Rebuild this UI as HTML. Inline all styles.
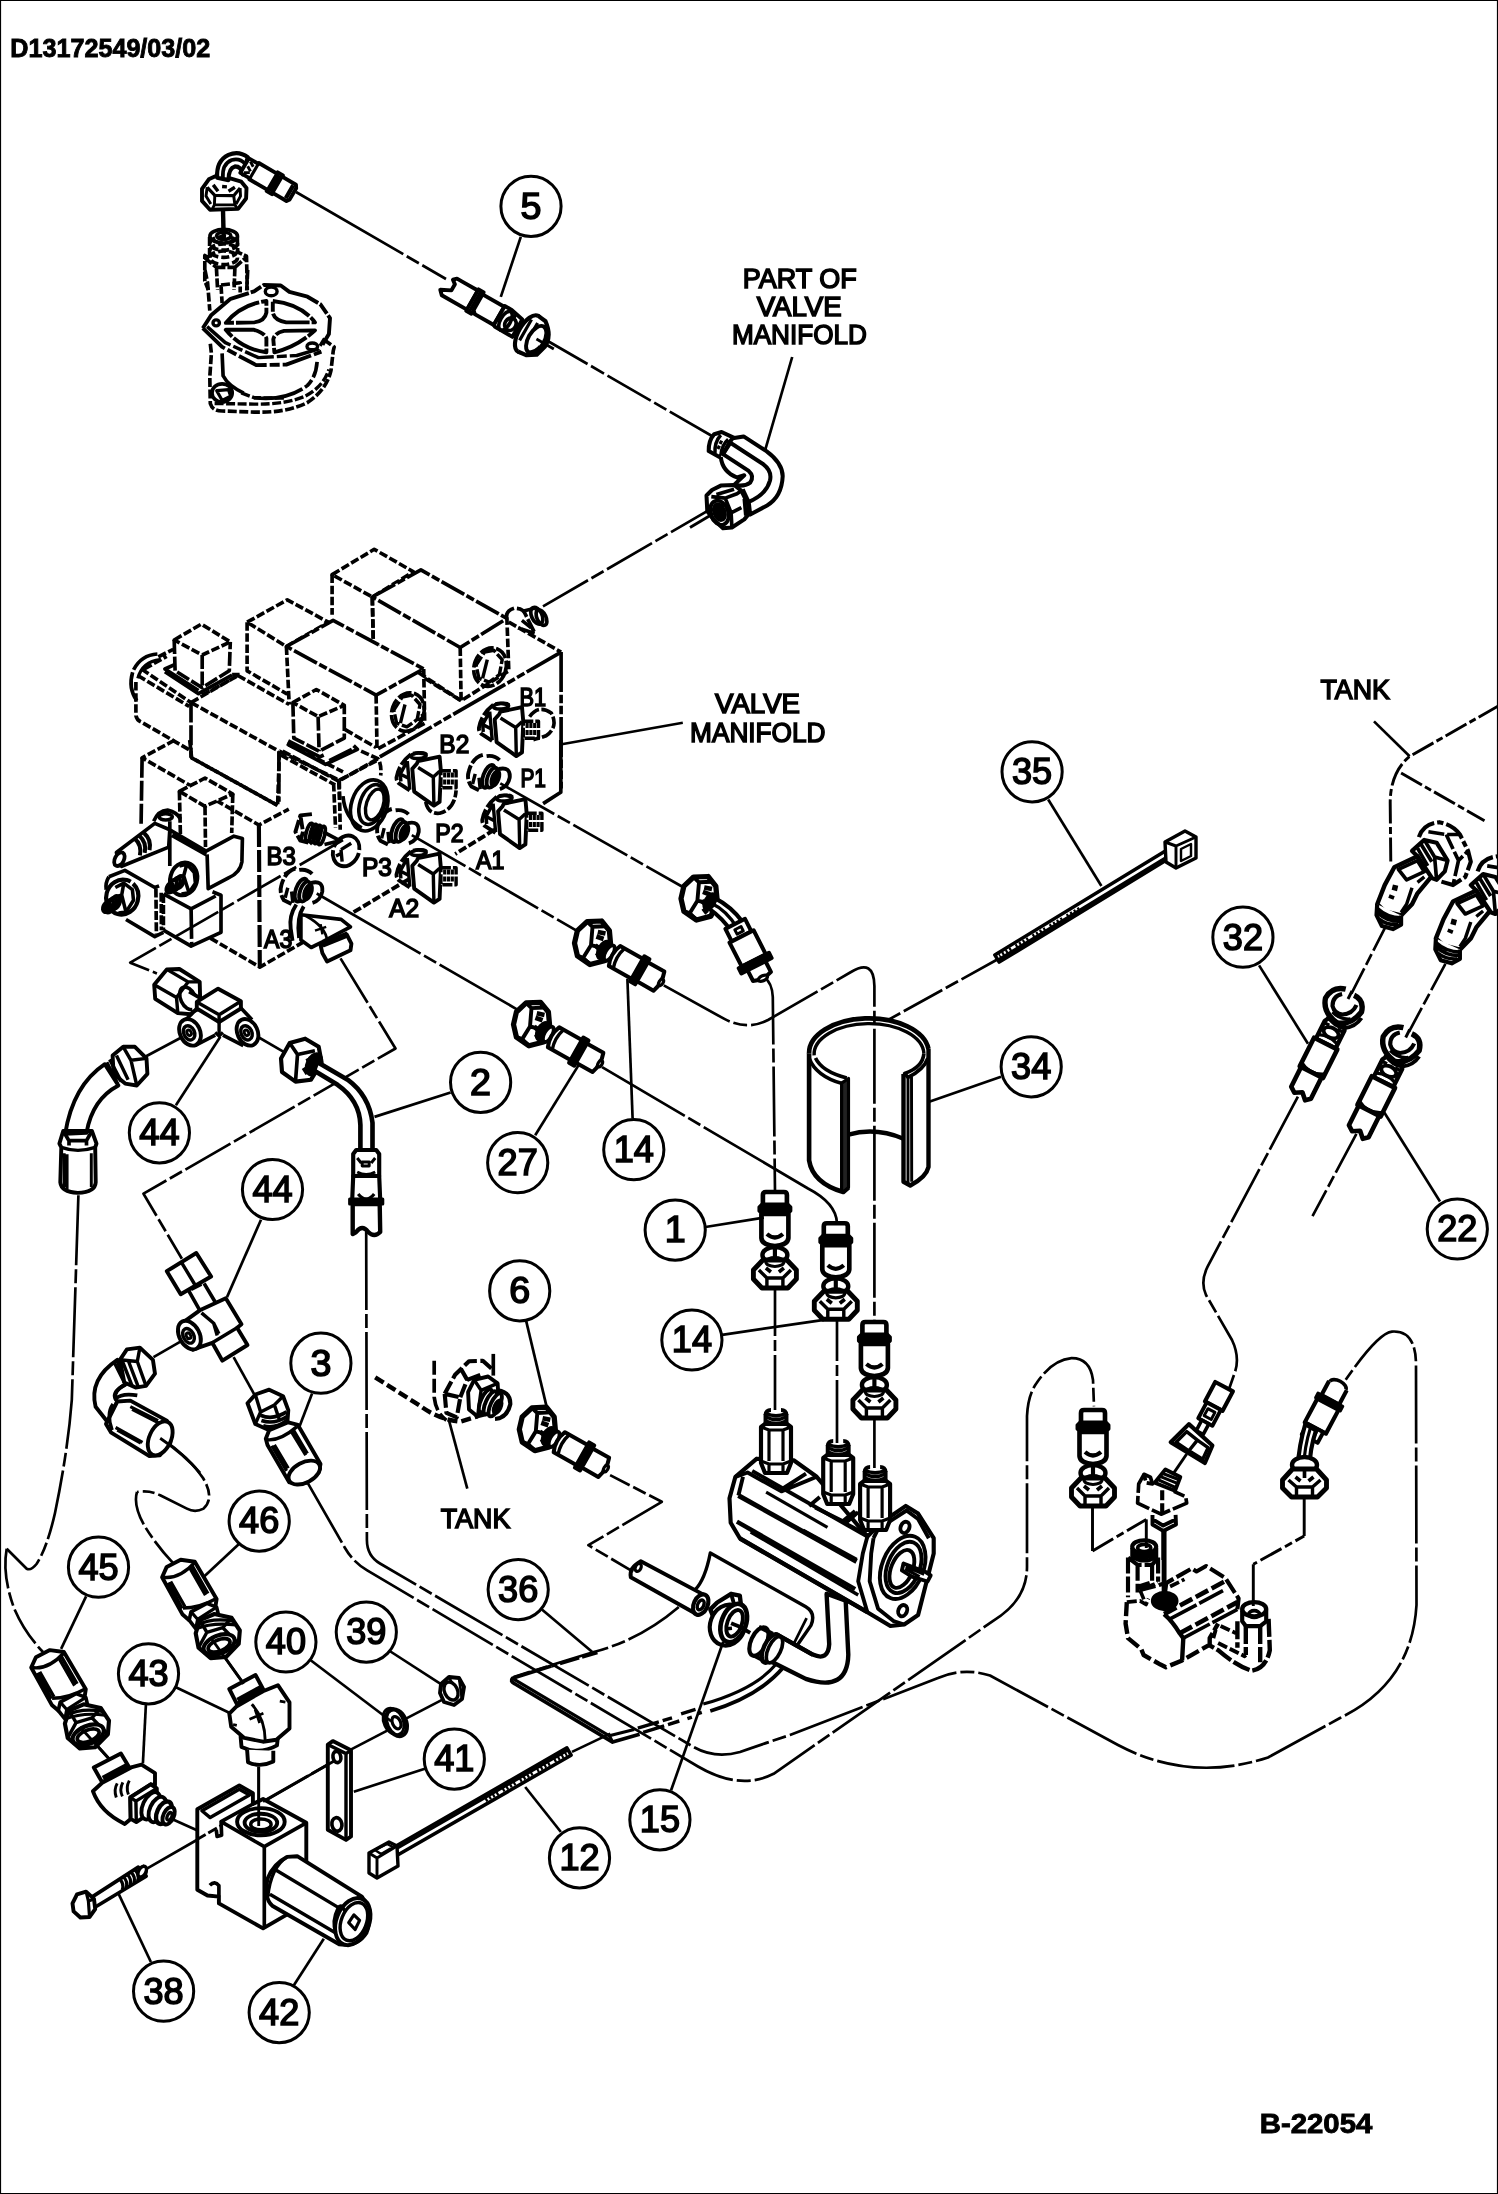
<!DOCTYPE html>
<html lang="en"><head><meta charset="utf-8"><title>D13172549/03/02</title>
<style>
html,body{margin:0;padding:0;background:#fff;}
body{width:1498px;height:2194px;overflow:hidden;}
svg{display:block;font-family:'Liberation Sans', sans-serif;will-change:transform;}
text{fill:#000;}
</style></head><body>
<svg width="1498" height="2194" viewBox="0 0 1498 2194" stroke-linecap="butt">
<rect x="0" y="0" width="1498" height="2194" fill="#fff"/>
<g id="s00_base">
<path d="M0.5 0.5H1497.5V2193.5H0.5Z" fill="none" stroke="#000" stroke-width="1.2"/>
<text x="10.3" y="57" font-size="26" font-weight="bold" text-anchor="start" textLength="200" lengthAdjust="spacingAndGlyphs" stroke="#000" stroke-width="0.9">D13172549/03/02</text>
<text x="1259.8" y="2133" font-size="28" font-weight="bold" text-anchor="start" textLength="112.5" lengthAdjust="spacingAndGlyphs" stroke="#000" stroke-width="0.9">B-22054</text>
<text x="799.8" y="287.6" font-size="27" font-weight="normal" text-anchor="middle" textLength="114" lengthAdjust="spacingAndGlyphs" stroke="#000" stroke-width="1.5">PART OF</text>
<text x="799.2" y="315.9" font-size="27" font-weight="normal" text-anchor="middle" textLength="85" lengthAdjust="spacingAndGlyphs" stroke="#000" stroke-width="1.5">VALVE</text>
<text x="799.4" y="344.4" font-size="27" font-weight="normal" text-anchor="middle" textLength="135" lengthAdjust="spacingAndGlyphs" stroke="#000" stroke-width="1.5">MANIFOLD</text>
<text x="757.5" y="713.4" font-size="27" font-weight="normal" text-anchor="middle" textLength="85" lengthAdjust="spacingAndGlyphs" stroke="#000" stroke-width="1.5">VALVE</text>
<text x="757.8" y="741.6" font-size="27" font-weight="normal" text-anchor="middle" textLength="135.5" lengthAdjust="spacingAndGlyphs" stroke="#000" stroke-width="1.5">MANIFOLD</text>
<text x="1355.2" y="699.4" font-size="27" font-weight="normal" text-anchor="middle" textLength="69.5" lengthAdjust="spacingAndGlyphs" stroke="#000" stroke-width="1.5">TANK</text>
<text x="475.6" y="1528.2" font-size="27" font-weight="normal" text-anchor="middle" textLength="69.5" lengthAdjust="spacingAndGlyphs" stroke="#000" stroke-width="1.5">TANK</text>
</g>
<g id="s10_lines">
<path d="M296 192 L446 279" fill="none" stroke="#000" stroke-width="2.68" stroke-dasharray="124 4 14 4 200" stroke-linejoin="round"/>
<path d="M546 340 L712 436" fill="none" stroke="#000" stroke-width="2.68" stroke-dasharray="48 4 15 4 50 4 14 4 100" stroke-linejoin="round"/>
<path d="M716 506 L535 611" fill="none" stroke="#000" stroke-width="2.68" stroke-dasharray="52 4 14 4" stroke-linejoin="round"/>
<path d="M223 212 L223 230" fill="none" stroke="#000" stroke-width="2.68" stroke-linejoin="round"/>
<path d="M500.3 783.4 L685.5 888.5" fill="none" stroke="#000" stroke-width="2.68" stroke-dasharray="62 4 14 4" stroke-linejoin="round"/>
<path d="M411.8 835.1 L578.7 931.9" fill="none" stroke="#000" stroke-width="2.68" stroke-dasharray="62 4 14 4" stroke-linejoin="round"/>
<path d="M316.7 893.5 L518.6 1010.3" fill="none" stroke="#000" stroke-width="2.68" stroke-dasharray="120 4 14 4" stroke-linejoin="round"/>
<path d="M663.8 985.3 L723.9 1018.7 Q747 1031 768 1020 L851 972 Q874 958 874.4 986 L874.4 1322" fill="none" stroke="#000" stroke-width="2.68" stroke-dasharray="75 4 14 4" stroke-linejoin="round"/>
<path d="M602.1 1067.1 L808 1188.5 Q836 1203 837 1223" fill="none" stroke="#000" stroke-width="2.68" stroke-dasharray="96 4 14 4 200" stroke-linejoin="round"/>
<path d="M764 977 Q772.3 983 772.8 997 L775 1192" fill="none" stroke="#000" stroke-width="2.68" stroke-dasharray="70 4 14 4" stroke-linejoin="round"/>
<path d="M775 1290 L775 1410" fill="none" stroke="#000" stroke-width="2.68" stroke-dasharray="46 4 11 4 100" stroke-linejoin="round"/>
<path d="M837 1321 L837 1443" fill="none" stroke="#000" stroke-width="2.68" stroke-dasharray="40 4 11 4 100" stroke-linejoin="round"/>
<path d="M874.4 1419 L874.4 1468" fill="none" stroke="#000" stroke-width="2.68" stroke-dasharray="100" stroke-linejoin="round"/>
<path d="M1000 958 L888 1020" fill="none" stroke="#000" stroke-width="2.68" stroke-dasharray="44 4 14 4" stroke-linejoin="round"/>
<path d="M343 840 L130.2 962.7 L156.9 973.4" fill="none" stroke="#000" stroke-width="2.68" stroke-dasharray="50 4 14 4" stroke-linejoin="round"/>
<path d="M340.5 958.4 L395.5 1048.5 L143.5 1193.7 L181.9 1258.8" fill="none" stroke="#000" stroke-width="2.68" stroke-dasharray="52 4 14 4" stroke-linejoin="round"/>
<path d="M186.9 1034.5 L145.2 1056.8" fill="none" stroke="#000" stroke-width="2.68" stroke-linejoin="round"/>
<path d="M253.7 1034.5 L283.7 1051.8" fill="none" stroke="#000" stroke-width="2.68" stroke-linejoin="round"/>
<path d="M185.2 1338.9 L153.5 1357.2" fill="none" stroke="#000" stroke-width="2.68" stroke-linejoin="round"/>
<path d="M233.6 1357.2 L258 1401" fill="none" stroke="#000" stroke-width="2.68" stroke-linejoin="round"/>
<path d="M78.4 1195.3 L71.8 1400 Q68 1450 55 1513 Q47 1548 36.7 1563.7 Q31 1571 26.7 1568.7 L6.7 1548.7" fill="none" stroke="#000" stroke-width="2.68" stroke-dasharray="70 4 14 4" stroke-linejoin="round"/>
<path d="M6.7 1548.7 Q2 1575 14 1608 Q24 1632 43 1652" fill="none" stroke="#000" stroke-width="2.68" stroke-dasharray="40 4 14 4" stroke-linejoin="round"/>
<path d="M161.9 1438.5 Q190 1458 203 1478 Q215 1498 203.6 1508.6 Q195 1513 186.9 1508.6 L160.2 1495.3 Q150 1490 137 1492" fill="none" stroke="#000" stroke-width="2.68" stroke-dasharray="60 4 12 4" stroke-linejoin="round"/>
<path d="M137 1492 Q133 1505 144 1525 Q156 1545 173.6 1563.7" fill="none" stroke="#000" stroke-width="2.68" stroke-dasharray="34 4 12 4" stroke-linejoin="round"/>
<path d="M366.2 1232.1 L366.9 1540 Q367 1556 380 1563.5 L693.9 1747.2 Q715 1759 740 1752 Q760 1745 790 1735 L938 1678 Q963 1667 990 1675.5 L1118 1745 Q1190 1783 1268 1757.5 L1340 1718 Q1412 1683 1416.5 1605 L1416 1365 Q1416 1330 1392 1331.6 Q1378 1333 1345.7 1379.8" fill="none" stroke="#000" stroke-width="2.68" stroke-dasharray="78 4 14 4" stroke-linejoin="round"/>
<path d="M307.1 1481.9 L345 1548 Q353 1562 367.2 1570.4 L698 1766.5 Q740 1791 773.6 1773.8 L993.9 1620.3 Q1027 1600 1027 1567 L1027 1416 Q1028 1395 1036.6 1383 Q1052 1360 1071.5 1358.2 Q1090 1358 1093 1380 L1094 1406.4" fill="none" stroke="#000" stroke-width="2.68" stroke-dasharray="70 4 14 4" stroke-linejoin="round"/>
<path d="M218.6 1648.8 L243.7 1683.8" fill="none" stroke="#000" stroke-width="2.68" stroke-linejoin="round"/>
<path d="M86.8 1733.9 L110.1 1760" fill="none" stroke="#000" stroke-width="2.68" stroke-linejoin="round"/>
<path d="M443.9 1698.9 L405.5 1718.9" fill="none" stroke="#000" stroke-width="2.68" stroke-linejoin="round"/>
<path d="M387.2 1730.6 L348.8 1750.6" fill="none" stroke="#000" stroke-width="2.68" stroke-linejoin="round"/>
<path d="M166.9 1816.8 L200.3 1831.8" fill="none" stroke="#000" stroke-width="2.68" stroke-linejoin="round"/>
<path d="M258.7 1766.8 L258.7 1823.5" fill="none" stroke="#000" stroke-width="2.68" stroke-linejoin="round"/>
<path d="M146.9 1868.6 L336 1760" fill="none" stroke="#000" stroke-width="2.68" stroke-dasharray="58 4 10 4 300" stroke-linejoin="round"/>
<path d="M572 1751.9 L610.3 1733.6" fill="none" stroke="#000" stroke-width="2.68" stroke-linejoin="round"/>
<path d="M610.1 1475.1 L661.8 1501.8 L588.4 1545.2 L633.4 1571.9" fill="none" stroke="#000" stroke-width="2.68" stroke-dasharray="22 4 14 4 60 4 14 4" stroke-linejoin="round"/>
<path d="M678.8 1607 Q640 1640 593.7 1652 Q555 1664 513.6 1677" fill="none" stroke="#000" stroke-width="2.68" stroke-dasharray="60 4 14 4" stroke-linejoin="round"/>
<path d="M1387 923.9 L1348.4 999.6" fill="none" stroke="#000" stroke-width="2.68" stroke-dasharray="30 4 12 4" stroke-linejoin="round"/>
<path d="M1445.4 963.8 L1405.5 1038.2" fill="none" stroke="#000" stroke-width="2.68" stroke-dasharray="30 4 12 4" stroke-linejoin="round"/>
<path d="M1297.9 1096.6 L1207.6 1266.6 Q1200 1282 1206 1295 L1232 1340 Q1240 1357 1235 1372 L1229.4 1388" fill="none" stroke="#000" stroke-width="2.68" stroke-dasharray="60 4 14 4" stroke-linejoin="round"/>
<path d="M1356.4 1133.8 L1312.5 1216.2" fill="none" stroke="#000" stroke-width="2.68" stroke-dasharray="44 4 12 4" stroke-linejoin="round"/>
</g>
<g id="s20_topleft">
<path d="M 202 188.9 L 208.8 179.3 L 216.4 175.7 L 227.7 177.7 L 241.3 181.7 L 246.5 188.1 L 246.1 198.5 L 238.1 208.9 L 210 209.7 L 202 200.9 Z" fill="#fff" stroke="#000" stroke-width="3.9" stroke-linejoin="round"/>
<path d="M 207.2 187.3 L 214.8 195.3 L 233.7 195.7 L 240.1 188.1" fill="none" stroke="#000" stroke-width="3.17" stroke-linejoin="round"/>
<path d="M 214.8 195.3 L 214.4 204.9 L 234.9 204.9 L 233.7 195.7 M 214.4 204.9 L 212.4 208.9 M 234.9 204.9 L 237.3 208.5 M 207.2 187.3 L 206 196.1 L 210.8 204.1 M 240.1 188.1 L 240.5 196.1 L 236.1 204.1" fill="none" stroke="#000" stroke-width="2.93" stroke-linejoin="round"/>
<path d="M 213.2 184.9 L 218 191.3 M 228.5 191.3 L 234.9 187.3 M 222.1 186.5 L 226.9 186.9" fill="none" stroke="#000" stroke-width="3.42" stroke-linejoin="round"/>
<path d="M 217.2 177.7 Q 216 160.8 228.5 154.8 Q 238.9 150.4 247.7 157.2 L 242.9 174.5 Q 241.3 166.4 234.9 166.4 Q 228.5 168 228.5 180.1 Z" fill="#fff" stroke="#000" stroke-width="4.15" stroke-linejoin="round"/>
<path d="M 222.9 178.5 Q 221.7 164 231.7 160 Q 239.7 157.6 245.3 164" fill="none" stroke="#000" stroke-width="3.66" stroke-linejoin="round"/>
<g transform="translate(244.6 165.6) rotate(30.3)">
<path d="M0 -8.4 L11 -8.4 L11 -9.4 L32 -9.4 L32 -10.9 L38 -10.9 L38 -9.4 L54 -9.4 L56 -6.4 L56 6.4 L54 9.4 L38 9.4 L38 10.9 L32 10.9 L32 9.4 L11 9.4 L11 8.4 L0 8.4 Z" fill="#fff" stroke="#000" stroke-width="3.9" stroke-linejoin="round"/>
<path d="M11 -9.4 L11 9.4 M32 -9.4 L32 9.4 M38 -9.4 L38 9.4 M35 -9.4 L35 9.4" fill="none" stroke="#000" stroke-width="3.17" stroke-linejoin="round"/>
<path d="M3 -6.4 L8 -3.4000000000000004 M3 6.4 L8 3.4000000000000004 M3 -1 L8 2" fill="none" stroke="#000" stroke-width="2.93" stroke-linejoin="round"/>
<path d="M52 -7.4 L52 7.4" fill="none" stroke="#000" stroke-width="4.27" stroke-linejoin="round"/>
</g>
<path d="M 223 210.5 L 223.7 236.2" fill="none" stroke="#000" stroke-width="4.39" stroke-linejoin="round"/>
<path d="M 209.6 237 L 209.6 258.6 L 204.8 255.4 L 204.8 281 L 208.4 290 M 237.3 237 L 237.7 252.2 L 246.5 256.2 L 247.3 290 M 216.4 267.4 L 234.9 267.4 M 216.4 267.4 L 217.6 290 M 234.9 267.4 L 234.1 290 M 204.8 257.8 L 216.4 267.4 M 234.9 267.4 L 246.5 257" fill="none" stroke="#000" stroke-width="3.66" stroke-dasharray="9 2" stroke-linejoin="round"/>
<ellipse cx="223.7" cy="236.2" rx="13.8" ry="6.8" fill="none" stroke="#000" stroke-width="3.66" stroke-dasharray="none"/>
<ellipse cx="223.7" cy="243.4" rx="13.8" ry="6.8" fill="none" stroke="#000" stroke-width="3.66" stroke-dasharray="8 3"/>
<ellipse cx="223.7" cy="250.6" rx="13.8" ry="6.8" fill="none" stroke="#000" stroke-width="3.66" stroke-dasharray="8 3"/>
<ellipse cx="223.7" cy="257.8" rx="13.8" ry="6.8" fill="none" stroke="#000" stroke-width="3.66" stroke-dasharray="8 3"/>
<ellipse cx="223.7" cy="235.8" rx="7.2" ry="3.6" fill="none" stroke="#000" stroke-width="3.42"/>
<path d="M 205 270 L 207.6 282.8 L 209.8 310.6 M 247.7 270 L 246.6 293 M 221 285 L 240.2 282.8 L 240.2 292.4 M 221 285 L 222.1 303.1" fill="none" stroke="#000" stroke-width="3.66" stroke-dasharray="9 2.5" stroke-linejoin="round"/>
<path d="M 202.8 328.2 L 211.4 314.9 L 230.6 298.8 L 254.1 291.4 L 263.7 285 L 280.8 285.5 L 289.4 291.9 L 307.5 296.7 L 320.3 304.2 L 330 318.1 L 328.9 334.1 L 322.5 344.8" fill="none" stroke="#000" stroke-width="3.9" stroke-dasharray="60 2 12 2" stroke-linejoin="round"/>
<path d="M 202.8 328.2 L 222.1 346.9 L 256.2 365.1 L 286.2 364.6 L 321.4 351.7" fill="none" stroke="#000" stroke-width="3.9" stroke-dasharray="30 3 10 3" stroke-linejoin="round"/>
<path d="M 207.1 326.6 L 225.3 342.6 L 258.4 357.6 L 296.8 355.5 L 318.2 349.1 L 324.6 338.4" fill="none" stroke="#000" stroke-width="3.42" stroke-dasharray="30 3 10 3" stroke-linejoin="round"/>
<ellipse cx="271.2" cy="291.4" rx="5.9" ry="4.3" fill="none" stroke="#000" stroke-width="3.42"/>
<ellipse cx="216.2" cy="322.9" rx="3.2" ry="3" fill="none" stroke="#000" stroke-width="3.42"/>
<ellipse cx="312.3" cy="346.4" rx="5.3" ry="3.4" fill="none" stroke="#000" stroke-width="3.42"/>
<path d="M 225.8 322.9 Q 241.3 304.2 266.4 301 L 266.4 312.7 Q 264.8 321.3 254.1 322.4 Z" fill="none" stroke="#000" stroke-width="3.9" stroke-dasharray="40 2 10 2" stroke-linejoin="round"/>
<path d="M 272.8 301 Q 301.1 304.2 315 322.4 L 286.2 322.4 Q 274.4 320.2 272.8 312.7 Z" fill="none" stroke="#000" stroke-width="3.9" stroke-dasharray="40 2 10 2" stroke-linejoin="round"/>
<path d="M 225.8 329.8 L 254.1 329.8 Q 264.8 333 266.4 338.4 L 266.4 352.3 Q 241.3 349.1 225.8 329.8 Z" fill="none" stroke="#000" stroke-width="3.9" stroke-dasharray="40 2 10 2" stroke-linejoin="round"/>
<path d="M 315 330.4 L 284 330.9 Q 274.4 333 273.3 339.4 L 274.4 352.3 Q 296.8 346.9 315 330.4 Z" fill="none" stroke="#000" stroke-width="3.9" stroke-dasharray="40 2 10 2" stroke-linejoin="round"/>
<path d="M 222.1 353.3 L 223.1 375.8 Q 228.5 386.5 245.6 393.9 M 254.1 397.7 Q 286.2 401.4 307.5 385.4 Q 316.1 376.8 317.1 361.9" fill="none" stroke="#000" stroke-width="3.66" stroke-dasharray="50 3 10 3" stroke-linejoin="round"/>
<path d="M 210.3 343.7 L 211.4 353.3 L 209.8 376.8 L 210.3 403.5 Q 212.4 411 222.1 411 L 254.1 412.1 Q 286.2 413.2 307.5 402.5 Q 326.8 389.7 331 370.4 L 333.2 351.2 L 334.2 346.9 L 323.5 339.4" fill="none" stroke="#000" stroke-width="3.66" stroke-dasharray="9 2.5" stroke-linejoin="round"/>
<path d="M 214.6 403.5 L 254.1 404.1 Q 286.2 404.6 305.4 396.1 Q 323.5 386.5 328.9 369.4" fill="none" stroke="#000" stroke-width="3.42" stroke-dasharray="9 2.5" stroke-linejoin="round"/>
<path d="M 241.3 392.9 L 254.1 397.7 L 286.2 398.2" fill="none" stroke="#000" stroke-width="3.42" stroke-dasharray="9 2.5" stroke-linejoin="round"/>
<ellipse cx="222.1" cy="392.9" rx="10.1" ry="9.1" fill="none" stroke="#000" stroke-width="3.66"/>
<path d="M 216.7 390.7 L 228.5 389.7 L 230.6 396.1 L 222.1 400.3 Z" fill="none" stroke="#000" stroke-width="3.17" stroke-linejoin="round"/>
</g>
<g id="s21_part5">
<g transform="translate(448.7 287.1) rotate(29.8)">
<path d="M0 -8.5 L3 -11.5 L10 -11.5 L27 -11.5 L27 10.5 L-2 10.5 L-6 6.5 L4 1.5 L4 -5.5 Z" fill="#fff" stroke="#000" stroke-width="3.9" stroke-linejoin="round"/>
<path d="M27 -13.0 L33 -13.0 L33 12.0 L27 12.0 Z" fill="#fff" stroke="#000" stroke-width="3.66" stroke-linejoin="round"/>
<path d="M30 -12.5 L30 11.5" fill="none" stroke="#000" stroke-width="3.17" stroke-linejoin="round"/>
<path d="M33 -10.5 L58 -10.5 L58 10.5 L36 10.5 L33 7.5 Z" fill="#fff" stroke="#000" stroke-width="3.9" stroke-linejoin="round"/>
<path d="M58 -11.5 L66 -11.5 L80 -8.5 L80 11.5 L60 11.5 L58 10.5 Z" fill="#fff" stroke="#000" stroke-width="3.9" stroke-linejoin="round"/>
<ellipse cx="66" cy="1" rx="5" ry="10.5" fill="none" stroke="#000" stroke-width="3.66"/>
<ellipse cx="72" cy="1.5" rx="5.5" ry="6.5" fill="none" stroke="#000" stroke-width="3.66"/>
<path d="M72 -9.5 L72 -6 M72 8 L72 10.5" fill="none" stroke="#000" stroke-width="3.17" stroke-linejoin="round"/>
<ellipse cx="92" cy="1" rx="9.5" ry="20.5" fill="#fff" stroke="#000" stroke-width="4.15"/>
<path d="M92 -19.5 L101 -18.5 Q114 -9 113 4 L110 15 L101 20.5 L92 21.5" fill="#fff" stroke="#000" stroke-width="4.15" stroke-linejoin="round"/>
<ellipse cx="102" cy="2" rx="8" ry="15" fill="#fff" stroke="#000" stroke-width="3.9"/>
<path d="M104 -12 Q112 -10 111 -3 M109 6 Q108 13 102 17" fill="none" stroke="#000" stroke-width="3.66" stroke-linejoin="round"/>
<path d="M88 -13 L88 11 M95 -13 L95 -6" fill="none" stroke="#000" stroke-width="3.17" stroke-linejoin="round"/>
<path d="M102 1.5 L122 1.5" fill="none" stroke="#000" stroke-width="2.93" stroke-linejoin="round"/>
</g>
<path d="M 714.2 434.2 Q 708.4 440.8 708.7 451.1 L 719.4 457 L 723 454.1 L 731.1 441.6 L 734.1 437.9 L 721.6 432 Z" fill="#fff" stroke="#000" stroke-width="4.03" stroke-linejoin="round"/>
<path d="M 720.8 435 Q 714.2 442.3 715 453.3 M 728.2 439.4 Q 721.6 445.2 720.8 455.5" fill="none" stroke="#000" stroke-width="3.42" stroke-linejoin="round"/>
<path d="M 719.4 441.6 L 722.3 443 M 717.2 446.7 L 720.1 448.2" fill="none" stroke="#000" stroke-width="3.66" stroke-linejoin="round"/>
<path d="M 732.6 438.3 L 743.6 436.4 L 766.4 451.1 Q 782.5 462.9 782.7 476.1 Q 781.8 496.6 767.1 505.4 L 750.2 514.6 L 748.7 501.8 Q 766.4 494.4 770 480.5 Q 772.2 470.9 763.4 464.3 L 729.6 442.3 Z" fill="#fff" stroke="#000" stroke-width="4.03" stroke-linejoin="round"/>
<path d="M 729.6 442.3 L 723 454.1 L 748.7 470.9 Q 754.6 476.1 750.2 482.7 Q 744.3 487.1 734.1 484.9 L 744.3 475.3 L 737 477.5 Q 722.3 471.7 720.8 457" fill="#fff" stroke="#000" stroke-width="4.03" stroke-linejoin="round"/>
<path d="M 748.7 501.8 L 742.9 489.3" fill="none" stroke="#000" stroke-width="3.66" stroke-linejoin="round"/>
<path d="M 734.1 484.9 L 720.8 485.6 L 712 490 L 706.5 495.5 L 707.3 511.3 L 714.2 520.1 L 723 528.2 L 731.9 527.5 L 744.3 519.4 L 748.7 514.3 L 748 504 L 741.4 490.8 Z" fill="#fff" stroke="#000" stroke-width="4.03" stroke-linejoin="round"/>
<path d="M 716.4 494.4 L 734.1 489.3 M 711.3 496.6 L 725.2 498.1 L 737 493.7 L 741.4 490.8 M 725.2 498.1 L 731.1 512.8 L 741.4 507.7 M 731.1 512.8 L 731.9 527.5 M 744.3 498.8 L 745.8 515.7" fill="none" stroke="#000" stroke-width="3.66" stroke-linejoin="round"/>
<ellipse cx="719.4" cy="512.8" rx="8.8" ry="12.5" fill="none" stroke="#000" stroke-width="3.9" transform="rotate(-20 719.4 512.8)"/>
<ellipse cx="719.4" cy="512.1" rx="5.1" ry="8.1" fill="#000" stroke="#000" stroke-width="3.9" transform="rotate(-20 719.4 512.1)"/>
<path d="M 690 527.5 L 719.4 509.9" fill="none" stroke="#000" stroke-width="2.93" stroke-linejoin="round"/>
</g>
<g id="s30_manifold">
<path d="M 332.1 574.6 L 374.2 549.3 L 413.5 571.8 L 372.3 597 Z" fill="#fff" stroke="#000" stroke-width="3.66" stroke-dasharray="8.5 2.6" stroke-linejoin="round"/>
<path d="M 332.1 574.6 L 332.1 614.8 M 372.3 597 L 373.3 641.9" fill="none" stroke="#000" stroke-width="3.66" stroke-dasharray="8.5 2.6" stroke-linejoin="round"/>
<path d="M 372.3 597 L 420.9 569.9 L 506.9 618.5 L 460.2 647.5 Z" fill="#fff" stroke="#000" stroke-width="3.66" stroke-dasharray="26 2.6 8.5 2.6" stroke-linejoin="round"/>
<path d="M 460.2 647.5 L 461.1 700.7 L 508.8 670.8 L 506.9 618.5" fill="none" stroke="#000" stroke-width="3.66" stroke-dasharray="8.5 2.6" stroke-linejoin="round"/>
<path d="M 372.3 597 L 373.3 642.8 L 461.1 700.7" fill="none" stroke="#000" stroke-width="3.66" stroke-dasharray="8.5 2.6" stroke-linejoin="round"/>
<ellipse cx="490.1" cy="667.1" rx="15.9" ry="19.6" fill="none" stroke="#000" stroke-width="3.66" transform="rotate(20 490.1 667.1)" stroke-dasharray="14 2.5"/>
<path d="M 484.5 652.1 L 493.8 650.3 L 502.2 659.6 L 499.4 674.6 L 489.2 682.1 L 478.9 678.3 L 476.1 665.2 Z" fill="none" stroke="#000" stroke-width="3.42" stroke-dasharray="12 2.5" stroke-linejoin="round"/>
<path d="M 487.3 659.6 L 482.6 678.3" fill="none" stroke="#000" stroke-width="3.42" stroke-linejoin="round"/>
<path d="M 247.1 622.2 L 287.3 599.8 L 328.4 622.2 L 286.4 646.5 Z" fill="#fff" stroke="#000" stroke-width="3.66" stroke-dasharray="8.5 2.6" stroke-linejoin="round"/>
<path d="M 247.1 622.2 L 247.1 670.8 L 287.3 694.2 M 286.4 646.5 L 289.2 704.5" fill="none" stroke="#000" stroke-width="3.66" stroke-dasharray="8.5 2.6" stroke-linejoin="round"/>
<path d="M 286.4 646.5 L 333.1 620.4 L 423.7 669 L 376.1 695.1 Z" fill="#fff" stroke="#000" stroke-width="3.66" stroke-dasharray="26 2.6 8.5 2.6" stroke-linejoin="round"/>
<path d="M 376.1 695.1 L 377 749.3 L 424.7 723.2 L 423.7 669" fill="none" stroke="#000" stroke-width="3.66" stroke-dasharray="8.5 2.6" stroke-linejoin="round"/>
<path d="M 345.2 729.7 L 376.1 747.5" fill="none" stroke="#000" stroke-width="3.66" stroke-dasharray="8.5 2.6" stroke-linejoin="round"/>
<ellipse cx="407.9" cy="712" rx="15.9" ry="19.6" fill="none" stroke="#000" stroke-width="3.66" transform="rotate(20 407.9 712)" stroke-dasharray="14 2.5"/>
<path d="M 402.2 697 L 411.6 695.1 L 420 704.5 L 417.2 719.4 L 406.9 726.9 L 396.6 723.2 L 393.8 710.1 Z" fill="none" stroke="#000" stroke-width="3.42" stroke-dasharray="12 2.5" stroke-linejoin="round"/>
<path d="M 405 704.5 L 400.4 723.2 M 417.2 719.4 Q 424.7 719.4 421.9 713.8" fill="none" stroke="#000" stroke-width="3.42" stroke-linejoin="round"/>
<path d="M 424.7 678.3 L 461.1 700.7" fill="none" stroke="#000" stroke-width="3.66" stroke-dasharray="8.5 2.6" stroke-linejoin="round"/>
<path d="M 379.8 756.8 L 561.1 652.1" fill="none" stroke="#000" stroke-width="3.66" stroke-dasharray="60 2.6 8.5 2.6 8.5 2.6" stroke-linejoin="round"/>
<path d="M 508.8 622.2 L 561.1 652.1" fill="none" stroke="#000" stroke-width="3.66" stroke-dasharray="8.5 2.6" stroke-linejoin="round"/>
<path d="M 561.1 652.1 L 561.1 788.6" fill="none" stroke="#000" stroke-width="3.66" stroke-dasharray="40 2.6 8.5 2.6 8.5 2.6" stroke-linejoin="round"/>
<path d="M 560.8 740 L 560.8 792.3 L 543.1 803.6" fill="none" stroke="#000" stroke-width="3.66" stroke-linejoin="round"/>
<path d="M 494.5 829.7 L 455.2 854" fill="none" stroke="#000" stroke-width="3.9" stroke-dasharray="8.5 2.6" stroke-linejoin="round"/>
<path d="M 408.5 879.3 L 352.4 912.9" fill="none" stroke="#000" stroke-width="3.9" stroke-dasharray="8.5 2.6" stroke-linejoin="round"/>
<path d="M 174.2 640 L 201.3 624.1 L 230.3 641.9 L 202.2 655 Z" fill="#fff" stroke="#000" stroke-width="3.66" stroke-dasharray="8.5 2.6" stroke-linejoin="round"/>
<path d="M 174.2 640 L 175.1 670.8 L 202.2 687.7 L 229.3 670.8 L 230.3 641.9 M 202.2 655 L 202.2 687.7" fill="none" stroke="#000" stroke-width="3.66" stroke-dasharray="14 2.6" stroke-linejoin="round"/>
<path d="M 175.1 664.3 L 164.9 669 L 198.5 690.5 M 164.9 671.8 L 198.5 693.6 L 232.1 675" fill="none" stroke="#000" stroke-width="3.66" stroke-linejoin="round"/>
<path d="M 157.4 654 Q 140.6 655 133.1 670.8 Q 127.5 687.7 136.8 700.7" fill="none" stroke="#000" stroke-width="3.66" stroke-dasharray="30 2.6" stroke-linejoin="round"/>
<path d="M 160.2 659.6 Q 142.4 661.5 137.8 678.3" fill="none" stroke="#000" stroke-width="3.17" stroke-linejoin="round"/>
<path d="M 158.3 656.8 L 173.3 649.3 M 144.3 669 L 166.7 656.3" fill="none" stroke="#000" stroke-width="3.66" stroke-dasharray="8.5 2.6" stroke-linejoin="round"/>
<path d="M 141.5 669 L 191 702.6 M 137.8 675.5 L 189.2 706.4" fill="none" stroke="#000" stroke-width="3.66" stroke-dasharray="8.5 2.6" stroke-linejoin="round"/>
<path d="M 135.9 682.1 L 135.9 715.7 Q 136.8 720.4 141.5 722.2 L 190.1 750.3" fill="none" stroke="#000" stroke-width="3.66" stroke-dasharray="8.5 2.6" stroke-linejoin="round"/>
<path d="M 191 702.6 L 191 757.8" fill="none" stroke="#000" stroke-width="3.66" stroke-dasharray="20 2.6" stroke-linejoin="round"/>
<path d="M 191 702.6 L 237.8 675.5 M 202.2 695.1 L 235.9 676.8" fill="none" stroke="#000" stroke-width="3.66" stroke-dasharray="8.5 2.6" stroke-linejoin="round"/>
<path d="M 232.1 674.6 L 239.6 674.6 M 237.8 675.5 L 289.2 704.5" fill="none" stroke="#000" stroke-width="3.66" stroke-dasharray="8.5 2.6" stroke-linejoin="round"/>
<path d="M 191 702.6 L 278.9 751.2" fill="none" stroke="#000" stroke-width="3.66" stroke-dasharray="8.5 2.6" stroke-linejoin="round"/>
<path d="M 278.9 751.2 L 278.9 801.7" fill="none" stroke="#000" stroke-width="3.66" stroke-dasharray="20 2.6" stroke-linejoin="round"/>
<path d="M 191.6 757.8 L 277.6 805.4" fill="none" stroke="#000" stroke-width="3.66" stroke-dasharray="8.5 2.6" stroke-linejoin="round"/>
<path d="M 292.9 702.6 L 316.3 689.5 L 344.3 705.4 L 318.1 716.6 Z" fill="#fff" stroke="#000" stroke-width="3.66" stroke-dasharray="8.5 2.6" stroke-linejoin="round"/>
<path d="M 292.9 702.6 L 293.8 738.1 L 319.1 751.2 L 344.3 738.1 L 344.3 705.4 M 318.1 716.6 L 319.1 751.2" fill="none" stroke="#000" stroke-width="3.66" stroke-dasharray="14 2.6" stroke-linejoin="round"/>
<path d="M 288.2 740.9 L 320 756.8 L 323.7 755 M 288.2 744.7 L 325.6 764.3 L 357.4 749.3 L 353.6 745.6 M 329.3 760.6 L 351.8 749.3" fill="none" stroke="#000" stroke-width="3.66" stroke-linejoin="round"/>
<path d="M 282.6 751.2 L 338.7 781.1 L 377.9 758.7 M 338.7 781.1 L 339.6 800 M 280.7 755 L 335 784.9 M 361.1 751.2 L 377.9 758.7 Q 381.7 764.3 380.7 775.5" fill="none" stroke="#000" stroke-width="3.66" stroke-dasharray="8.5 2.6" stroke-linejoin="round"/>
<path d="M 279.4 751.2 L 339.3 780.2 L 340.2 829.7 M 279.4 751.2 L 277.6 805.4 M 339.3 780.2 L 376.6 760.6 M 333.6 783 L 335.5 827.9 M 286.9 743.7 L 343 771.8" fill="none" stroke="#000" stroke-width="3.66" stroke-dasharray="8.5 2.6" stroke-linejoin="round"/>
<ellipse cx="369.2" cy="805.4" rx="17.8" ry="26.2" fill="#fff" stroke="#000" stroke-width="3.66" transform="rotate(18 369.2 805.4)"/>
<ellipse cx="372" cy="804.5" rx="12.1" ry="20.6" fill="none" stroke="#000" stroke-width="3.66" transform="rotate(18 372 804.5)"/>
<ellipse cx="374.8" cy="804.5" rx="8.4" ry="15.9" fill="none" stroke="#000" stroke-width="3.42" transform="rotate(18 374.8 804.5)"/>
<path d="M 343 796.1 Q 344.9 818.5 361.7 827.9" fill="none" stroke="#000" stroke-width="3.66" stroke-linejoin="round"/>
<path d="M 174.8 740 L 142.1 757.8 L 258.9 825 L 288.8 809.2" fill="none" stroke="#000" stroke-width="3.66" stroke-dasharray="8.5 2.6" stroke-linejoin="round"/>
<path d="M 142.1 757.8 L 141.1 824.1" fill="none" stroke="#000" stroke-width="3.66" stroke-dasharray="20 3" stroke-linejoin="round"/>
<path d="M 258.9 825 L 259.8 967.1" fill="none" stroke="#000" stroke-width="4.15" stroke-dasharray="22 3" stroke-linejoin="round"/>
<path d="M 210.3 938.1 L 259.8 967.1 L 303.7 941.9" fill="none" stroke="#000" stroke-width="3.66" stroke-dasharray="8.5 2.6" stroke-linejoin="round"/>
<path d="M 189.7 740 L 191.6 757.8 L 277.6 805.4" fill="none" stroke="#000" stroke-width="3.66" stroke-dasharray="8.5 2.6" stroke-linejoin="round"/>
<path d="M 179.4 791.4 L 205 778 L 232.8 794 L 205 806.3 Z" fill="#fff" stroke="#000" stroke-width="3.66" stroke-dasharray="9 2.2" stroke-linejoin="round"/>
<path d="M 179.4 791.4 L 180.4 834.1 M 205 806.3 L 205.5 846.9 M 232.8 794 L 231.7 833" fill="none" stroke="#000" stroke-width="3.66" stroke-dasharray="9 2.2" stroke-linejoin="round"/>
<path d="M 169.8 821.3 L 169.8 866.1 M 169.8 829.8 L 206.1 851.2 L 233.9 836.2 L 242.4 838.4 L 241.9 861.9 Q 240.3 872.5 228.5 877.9 L 208.2 888.6 L 207.1 854.4 M 171.9 835.4 L 206.1 854.6" fill="none" stroke="#000" stroke-width="3.66" stroke-linejoin="round"/>
<path d="M 116.4 852.5 L 154.8 823.4 L 169.8 829.8 L 168.7 847.1 L 121.7 866.3 Z" fill="#fff" stroke="#000" stroke-width="3.66" stroke-linejoin="round"/>
<ellipse cx="119.4" cy="859.2" rx="4.5" ry="7.3" fill="#fff" stroke="#000" stroke-width="3.78" transform="rotate(28 119.4 859.2)"/>
<path d="M 134.5 838.4 Q 142 844.8 139.9 855.4" fill="none" stroke="#000" stroke-width="4.03" stroke-linejoin="round"/>
<path d="M 139.3 835.7 Q 146.8 842.1 144.7 852.8" fill="none" stroke="#000" stroke-width="4.03" stroke-linejoin="round"/>
<path d="M 144.1 833.1 Q 151.6 839.5 149.5 850.2" fill="none" stroke="#000" stroke-width="4.03" stroke-linejoin="round"/>
<path d="M 153.7 821.3 Q 158 810.6 167.6 810.1 Q 177.2 812.2 180.4 819.1" fill="none" stroke="#000" stroke-width="3.66" stroke-linejoin="round"/>
<ellipse cx="165.7" cy="816.8" rx="6.6" ry="3.2" fill="none" stroke="#000" stroke-width="3.66"/>
<path d="M 108.9 876.8 L 124.9 870.4 L 154.8 887.5 L 159.1 885.9" fill="none" stroke="#000" stroke-width="3.66" stroke-linejoin="round"/>
<path d="M 155.9 888.6 L 156.4 934.5 M 161.2 892.8 L 161.4 930.2" fill="none" stroke="#000" stroke-width="3.66" stroke-dasharray="9 2.2" stroke-linejoin="round"/>
<path d="M 126 919.5 L 154.8 936.6 L 163.4 932.3" fill="none" stroke="#000" stroke-width="3.66" stroke-linejoin="round"/>
<path d="M 108.9 876.8 Q 105.1 883.2 106.2 889.6" fill="none" stroke="#000" stroke-width="3.66" stroke-linejoin="round"/>
<ellipse cx="122.2" cy="897.1" rx="16" ry="17.6" fill="#fff" stroke="#000" stroke-width="4.15" transform="rotate(15 122.2 897.1)" stroke-dasharray="40 3"/>
<path d="M 115.3 887.5 L 123.8 883.2 L 132.4 889.6 L 133.5 900.3 L 126 912.1 L 118.5 913.1 M 123.8 883.2 L 121.7 895 L 126 912.1 M 121.7 895 L 113.2 898.2" fill="none" stroke="#000" stroke-width="3.54" stroke-linejoin="round"/>
<ellipse cx="115.3" cy="902.4" rx="4.3" ry="6.6" fill="#fff" stroke="#000" stroke-width="4.03" transform="rotate(25 115.3 902.4)"/>
<ellipse cx="112.3" cy="904.4" rx="4.3" ry="6.6" fill="#fff" stroke="#000" stroke-width="4.03" transform="rotate(25 112.3 904.4)"/>
<ellipse cx="109.3" cy="906.3" rx="4.3" ry="6.6" fill="#fff" stroke="#000" stroke-width="4.03" transform="rotate(25 109.3 906.3)"/>
<ellipse cx="106.7" cy="907.2" rx="3.4" ry="5.1" fill="#000" stroke="#000" stroke-width="4.03" transform="rotate(25 106.7 907.2)"/>
<ellipse cx="183.7" cy="878.9" rx="13.4" ry="16.6" fill="#fff" stroke="#000" stroke-width="4.03" transform="rotate(15 183.7 878.9)"/>
<path d="M 179.4 866.1 L 186.9 864 L 194.3 872.5 L 195.4 883.2 L 189 892.8 L 181.5 893.9 M 186.9 864 L 183.7 875.7 L 189 892.8 M 183.7 875.7 L 176.2 877.9" fill="none" stroke="#000" stroke-width="3.54" stroke-linejoin="round"/>
<ellipse cx="179.4" cy="882.1" rx="3.8" ry="6.4" fill="#fff" stroke="#000" stroke-width="4.03" transform="rotate(25 179.4 882.1)"/>
<ellipse cx="176" cy="884.1" rx="3.8" ry="6.4" fill="#fff" stroke="#000" stroke-width="4.03" transform="rotate(25 176 884.1)"/>
<ellipse cx="172.5" cy="886" rx="3.8" ry="6.4" fill="#fff" stroke="#000" stroke-width="4.03" transform="rotate(25 172.5 886)"/>
<ellipse cx="169.8" cy="888" rx="3" ry="4.8" fill="#000" stroke="#000" stroke-width="4.03" transform="rotate(25 169.8 888)"/>
<path d="M 163.4 893.9 L 191.1 908.9 L 215.7 896 M 212.5 891.8 L 221 895.2 L 221 932.3 L 191.1 946.2 L 163.4 930.2" fill="none" stroke="#000" stroke-width="3.66" stroke-linejoin="round"/>
<path d="M 163.4 893.9 L 163.4 930.2" fill="none" stroke="#000" stroke-width="3.66" stroke-dasharray="9 2.2" stroke-linejoin="round"/>
<path d="M 191.1 908.9 L 191.7 946.2" fill="none" stroke="#000" stroke-width="3.66" stroke-dasharray="30 3" stroke-linejoin="round"/>
</g>
<g id="s31_ports">
<g transform="translate(0 0)">
<path d="M 426.9 754.8 Q 418.1 751 410.4 754.8 Q 399 763.7 396.5 777.7 Q 396.5 781.5 399 783.4 L 409.8 790.4" fill="none" stroke="#000" stroke-width="3.9" stroke-dasharray="14 2.5" stroke-linejoin="round"/>
<ellipse cx="418.7" cy="755.7" rx="7.6" ry="2.8" fill="none" stroke="#000" stroke-width="3.42" transform="rotate(-5 418.7 755.7)"/>
<path d="M 407.3 761.2 L 400.3 773.9 L 400.9 781.5 M 407.3 761.2 L 409.8 789.7 M 400.3 773.9 L 408.5 778.3" fill="none" stroke="#000" stroke-width="3.42" stroke-linejoin="round"/>
<path d="M 416.8 763.7 L 418.1 761.2 L 439.6 756.7 L 440.9 771.3 L 439.6 801.8 L 433.9 805.6 L 414.2 791.6 L 412.3 768.8 Z" fill="#fff" stroke="#000" stroke-width="3.9" stroke-linejoin="round"/>
<path d="M 418.1 767.5 L 433.3 777 L 433.9 804.9 M 433.3 777 L 439.6 771.3" fill="none" stroke="#000" stroke-width="3.42" stroke-linejoin="round"/>
<path d="M 440.9 770.7 L 456.1 770.7 L 456.1 787.8 L 440.9 787.8 Z" fill="#fff" stroke="#000" stroke-width="3.42" stroke-dasharray="10 2" stroke-linejoin="round"/>
<path d="M 444.7 772.6 L 444.7 786.5 M 448.5 772.6 L 448.5 786.5 M 452.3 772.6 L 452.3 786.5" fill="none" stroke="#000" stroke-width="3.17" stroke-dasharray="5 2" stroke-linejoin="round"/>
<path d="M 425.7 801.8 Q 428.2 814.4 439.6 813.2 Q 454.8 809.4 456.1 790.4" fill="none" stroke="#000" stroke-width="3.66" stroke-dasharray="12 2.5" stroke-linejoin="round"/>
</g>
<g transform="translate(82.4 -49.5)">
<path d="M 426.9 754.8 Q 418.1 751 410.4 754.8 Q 399 763.7 396.5 777.7 Q 396.5 781.5 399 783.4 L 409.8 790.4" fill="none" stroke="#000" stroke-width="3.9" stroke-dasharray="14 2.5" stroke-linejoin="round"/>
<ellipse cx="418.7" cy="755.7" rx="7.6" ry="2.8" fill="none" stroke="#000" stroke-width="3.42" transform="rotate(-5 418.7 755.7)"/>
<path d="M 407.3 761.2 L 400.3 773.9 L 400.9 781.5 M 407.3 761.2 L 409.8 789.7 M 400.3 773.9 L 408.5 778.3" fill="none" stroke="#000" stroke-width="3.42" stroke-linejoin="round"/>
<path d="M 416.8 763.7 L 418.1 761.2 L 439.6 756.7 L 440.9 771.3 L 439.6 801.8 L 433.9 805.6 L 414.2 791.6 L 412.3 768.8 Z" fill="#fff" stroke="#000" stroke-width="3.9" stroke-linejoin="round"/>
<path d="M 418.1 767.5 L 433.3 777 L 433.9 804.9 M 433.3 777 L 439.6 771.3" fill="none" stroke="#000" stroke-width="3.42" stroke-linejoin="round"/>
<path d="M 440.9 770.7 L 456.1 770.7 L 456.1 787.8 L 440.9 787.8 Z" fill="#fff" stroke="#000" stroke-width="3.42" stroke-dasharray="10 2" stroke-linejoin="round"/>
<path d="M 444.7 772.6 L 444.7 786.5 M 448.5 772.6 L 448.5 786.5 M 452.3 772.6 L 452.3 786.5" fill="none" stroke="#000" stroke-width="3.17" stroke-dasharray="5 2" stroke-linejoin="round"/>
<path d="M 447.2 766.3 Q 456.1 753.6 468.8 762.4 Q 476.4 776.4 463.7 785.3 Q 457.4 787.8 451 789.1" fill="none" stroke="#000" stroke-width="3.66" stroke-dasharray="12 2.5" stroke-linejoin="round"/>
</g>
<g transform="translate(85.8 42.5)">
<path d="M 426.9 754.8 Q 418.1 751 410.4 754.8 Q 399 763.7 396.5 777.7 Q 396.5 781.5 399 783.4 L 409.8 790.4" fill="none" stroke="#000" stroke-width="3.9" stroke-dasharray="14 2.5" stroke-linejoin="round"/>
<ellipse cx="418.7" cy="755.7" rx="7.6" ry="2.8" fill="none" stroke="#000" stroke-width="3.42" transform="rotate(-5 418.7 755.7)"/>
<path d="M 407.3 761.2 L 400.3 773.9 L 400.9 781.5 M 407.3 761.2 L 409.8 789.7 M 400.3 773.9 L 408.5 778.3" fill="none" stroke="#000" stroke-width="3.42" stroke-linejoin="round"/>
<path d="M 416.8 763.7 L 418.1 761.2 L 439.6 756.7 L 440.9 771.3 L 439.6 801.8 L 433.9 805.6 L 414.2 791.6 L 412.3 768.8 Z" fill="#fff" stroke="#000" stroke-width="3.9" stroke-linejoin="round"/>
<path d="M 418.1 767.5 L 433.3 777 L 433.9 804.9 M 433.3 777 L 439.6 771.3" fill="none" stroke="#000" stroke-width="3.42" stroke-linejoin="round"/>
<path d="M 440.9 770.7 L 456.1 770.7 L 456.1 787.8 L 440.9 787.8 Z" fill="#fff" stroke="#000" stroke-width="3.42" stroke-dasharray="10 2" stroke-linejoin="round"/>
<path d="M 444.7 772.6 L 444.7 786.5 M 448.5 772.6 L 448.5 786.5 M 452.3 772.6 L 452.3 786.5" fill="none" stroke="#000" stroke-width="3.17" stroke-dasharray="5 2" stroke-linejoin="round"/>
</g>
<g transform="translate(0 97)">
<path d="M 426.9 754.8 Q 418.1 751 410.4 754.8 Q 399 763.7 396.5 777.7 Q 396.5 781.5 399 783.4 L 409.8 790.4" fill="none" stroke="#000" stroke-width="3.9" stroke-dasharray="14 2.5" stroke-linejoin="round"/>
<ellipse cx="418.7" cy="755.7" rx="7.6" ry="2.8" fill="none" stroke="#000" stroke-width="3.42" transform="rotate(-5 418.7 755.7)"/>
<path d="M 407.3 761.2 L 400.3 773.9 L 400.9 781.5 M 407.3 761.2 L 409.8 789.7 M 400.3 773.9 L 408.5 778.3" fill="none" stroke="#000" stroke-width="3.42" stroke-linejoin="round"/>
<path d="M 416.8 763.7 L 418.1 761.2 L 439.6 756.7 L 440.9 771.3 L 439.6 801.8 L 433.9 805.6 L 414.2 791.6 L 412.3 768.8 Z" fill="#fff" stroke="#000" stroke-width="3.9" stroke-linejoin="round"/>
<path d="M 418.1 767.5 L 433.3 777 L 433.9 804.9 M 433.3 777 L 439.6 771.3" fill="none" stroke="#000" stroke-width="3.42" stroke-linejoin="round"/>
<path d="M 440.9 770.7 L 456.1 770.7 L 456.1 787.8 L 440.9 787.8 Z" fill="#fff" stroke="#000" stroke-width="3.42" stroke-dasharray="10 2" stroke-linejoin="round"/>
<path d="M 444.7 772.6 L 444.7 786.5 M 448.5 772.6 L 448.5 786.5 M 452.3 772.6 L 452.3 786.5" fill="none" stroke="#000" stroke-width="3.17" stroke-dasharray="5 2" stroke-linejoin="round"/>
</g>
<g transform="translate(0 0)">
<path d="M 391.8 809 Q 381.6 811.6 377.8 825.5 Q 375.3 833.1 380.4 840.7 L 388 844.5 M 395.6 810.3 Q 404.4 809 409.5 815.4" fill="none" stroke="#000" stroke-width="3.9" stroke-dasharray="14 2.5" stroke-linejoin="round"/>
<path d="M 384.2 828.1 L 381.6 838.2 M 388 831.9 L 389.2 843.3" fill="none" stroke="#000" stroke-width="3.42" stroke-linejoin="round"/>
<ellipse cx="397.5" cy="830.6" rx="5.3" ry="12" fill="#fff" stroke="#000" stroke-width="3.9" transform="rotate(20 397.5 830.6)"/>
<ellipse cx="401.3" cy="831.9" rx="4.8" ry="10.4" fill="#fff" stroke="#000" stroke-width="3.9" transform="rotate(20 401.3 831.9)"/>
<ellipse cx="404.4" cy="832.5" rx="3.3" ry="7.6" fill="#000" stroke="#000" stroke-width="3.66" transform="rotate(20 404.4 832.5)"/>
<path d="M 407.6 823.2 Q 419.7 820.4 418.7 831.9 Q 417.1 840.7 408.9 843.3" fill="none" stroke="#000" stroke-width="3.9" stroke-linejoin="round"/>
</g>
<g transform="translate(-96.4 59.6)">
<path d="M 391.8 809 Q 381.6 811.6 377.8 825.5 Q 375.3 833.1 380.4 840.7 L 388 844.5 M 395.6 810.3 Q 404.4 809 409.5 815.4" fill="none" stroke="#000" stroke-width="3.9" stroke-dasharray="14 2.5" stroke-linejoin="round"/>
<path d="M 384.2 828.1 L 381.6 838.2 M 388 831.9 L 389.2 843.3" fill="none" stroke="#000" stroke-width="3.42" stroke-linejoin="round"/>
<ellipse cx="397.5" cy="830.6" rx="5.3" ry="12" fill="#fff" stroke="#000" stroke-width="3.9" transform="rotate(20 397.5 830.6)"/>
<ellipse cx="401.3" cy="831.9" rx="4.8" ry="10.4" fill="#fff" stroke="#000" stroke-width="3.9" transform="rotate(20 401.3 831.9)"/>
<ellipse cx="404.4" cy="832.5" rx="3.3" ry="7.6" fill="#000" stroke="#000" stroke-width="3.66" transform="rotate(20 404.4 832.5)"/>
<path d="M 407.6 823.2 Q 419.7 820.4 418.7 831.9 Q 417.1 840.7 408.9 843.3" fill="none" stroke="#000" stroke-width="3.9" stroke-linejoin="round"/>
</g>
<g transform="translate(91 -54.2)">
<path d="M 391.8 809 Q 381.6 811.6 377.8 825.5 Q 375.3 833.1 380.4 840.7 L 388 844.5 M 395.6 810.3 Q 404.4 809 409.5 815.4" fill="none" stroke="#000" stroke-width="3.9" stroke-dasharray="14 2.5" stroke-linejoin="round"/>
<path d="M 384.2 828.1 L 381.6 838.2 M 388 831.9 L 389.2 843.3" fill="none" stroke="#000" stroke-width="3.42" stroke-linejoin="round"/>
<ellipse cx="397.5" cy="830.6" rx="5.3" ry="12" fill="#fff" stroke="#000" stroke-width="3.9" transform="rotate(20 397.5 830.6)"/>
<ellipse cx="401.3" cy="831.9" rx="4.8" ry="10.4" fill="#fff" stroke="#000" stroke-width="3.9" transform="rotate(20 401.3 831.9)"/>
<ellipse cx="404.4" cy="832.5" rx="3.3" ry="7.6" fill="#000" stroke="#000" stroke-width="3.66" transform="rotate(20 404.4 832.5)"/>
<path d="M 407.6 823.2 Q 419.7 820.4 418.7 831.9 Q 417.1 840.7 408.9 843.3" fill="none" stroke="#000" stroke-width="3.9" stroke-linejoin="round"/>
</g>
<path d="M 311.9 814.1 L 300.4 815.4 L 295.4 831.9 L 300.4 840.7 L 311.9 843.3 M 300.4 815.4 L 303 831.9 L 300.4 840.7" fill="none" stroke="#000" stroke-width="3.9" stroke-dasharray="14 2.5" stroke-linejoin="round"/>
<ellipse cx="309.3" cy="832.5" rx="3" ry="9.5" fill="none" stroke="#000" stroke-width="3.66" transform="rotate(15 309.3 832.5)"/>
<ellipse cx="313.4" cy="833.5" rx="3" ry="9.5" fill="none" stroke="#000" stroke-width="3.66" transform="rotate(15 313.4 833.5)"/>
<ellipse cx="317.4" cy="834.5" rx="3" ry="9.5" fill="none" stroke="#000" stroke-width="3.66" transform="rotate(15 317.4 834.5)"/>
<ellipse cx="321.5" cy="835.5" rx="3" ry="9.5" fill="none" stroke="#000" stroke-width="3.66" transform="rotate(15 321.5 835.5)"/>
<path d="M 323.3 831.9 L 339.8 840.7 L 324.5 844.5" fill="none" stroke="#000" stroke-width="3.66" stroke-linejoin="round"/>
<ellipse cx="346.1" cy="850.9" rx="12.7" ry="15.9" fill="none" stroke="#000" stroke-width="3.9" transform="rotate(25 346.1 850.9)" stroke-dasharray="40 3"/>
<path d="M 341 849.6 L 342.3 863.6 M 341 849.6 L 351.2 843.3 M 336 856 L 341 853.4" fill="none" stroke="#000" stroke-width="3.42" stroke-dasharray="12 3" stroke-linejoin="round"/>
<path d="M 296.3 904.5 Q 288.8 915.7 290.7 928.8 L 292.5 940.9 M 303.7 906.4 Q 296.3 917.6 299.1 938.1" fill="none" stroke="#000" stroke-width="3.9" stroke-linejoin="round"/>
<path d="M 300.9 914.8 L 341.1 919.4 L 350.5 926.9 L 322.4 941.9 L 311.2 947.5 L 300.9 940 Z" fill="#fff" stroke="#000" stroke-width="3.66" stroke-linejoin="round"/>
<path d="M 305.6 915.7 Q 326.2 926.9 327.1 940.9" fill="none" stroke="#000" stroke-width="2.68" stroke-linejoin="round"/>
<path d="M 315 930.7 L 326.2 926.9 M 320.6 924.1 L 322.4 934.4" fill="none" stroke="#000" stroke-width="2.44" stroke-linejoin="round"/>
<path d="M 320.6 945.6 L 346.7 934.4 L 351.4 943.7 L 350.5 950.3 L 327.1 961.5 L 322.4 953.1 Z" fill="#fff" stroke="#000" stroke-width="3.9" stroke-linejoin="round"/>
<path d="M 322.4 944.7 L 347.7 934.4" fill="none" stroke="#000" stroke-width="6.1" stroke-linejoin="round"/>
<path d="M 506.9 618.5 Q 505 611 514.4 608.2 Q 523.7 608.2 525.6 614.8 L 535 633.5 L 518.1 627.9" fill="none" stroke="#000" stroke-width="3.66" stroke-dasharray="14 2.5" stroke-linejoin="round"/>
<ellipse cx="536.8" cy="615.7" rx="5.2" ry="9" fill="none" stroke="#000" stroke-width="3.66" transform="rotate(-25 536.8 615.7)"/>
<ellipse cx="541.5" cy="617.6" rx="4.5" ry="8.4" fill="none" stroke="#000" stroke-width="3.66" transform="rotate(-25 541.5 617.6)"/>
<path d="M 523.7 611 L 535 608.2 M 521.9 620.4 L 531.2 627.9" fill="none" stroke="#000" stroke-width="3.42" stroke-linejoin="round"/>
</g>
<g id="s32_fit14">
<g transform="translate(0 0)">
<path d="M 574.5 943.2 L 577.4 930.7 L 587.1 921.6 L 601.6 921 L 609.4 930.7 L 610.7 945.2 L 604.5 960.7 L 590 964.5 L 577.4 955.8 Z" fill="#fff" stroke="#000" stroke-width="5.25" stroke-linejoin="round"/>
<path d="M 587.1 921.6 L 592.5 926.8 L 591 945.2 L 583.2 957.8 L 577.4 955.8 M 592.5 926.8 L 606.1 926.2 M 591 945.2 L 600.7 947.5 M 583.2 957.8 L 590 964.5" fill="none" stroke="#000" stroke-width="3.9" stroke-linejoin="round"/>
<path d="M 596.4 936.5 L 603.6 939 M 595.2 945.2 L 602.2 951.9 M 597.8 932 L 605.5 933.6 M 596.8 952.9 L 600.7 957.8" fill="none" stroke="#000" stroke-width="4.64" stroke-linejoin="round"/>
<g transform="translate(591.9 943.2) rotate(29.5)">
<ellipse cx="14" cy="0" rx="5" ry="9" fill="#000" stroke="#000" stroke-width="4.15"/>
<ellipse cx="20" cy="0" rx="4" ry="8.5" fill="#fff" stroke="#000" stroke-width="3.9"/>
<path d="M26 -11.5 L53 -11.5 L53 11.5 L26 11.5 Q21 0 26 -11.5 Z" fill="#fff" stroke="#000" stroke-width="4.03" stroke-linejoin="round"/>
<path d="M31 -11.5 Q27 0 31 11.5" fill="none" stroke="#000" stroke-width="3.42" stroke-linejoin="round"/>
<path d="M52 -14.5 L58 -14.5 L58 14.5 L52 14.5 Z" fill="#fff" stroke="#000" stroke-width="3.9" stroke-linejoin="round"/>
<path d="M58 -11 L77 -11 Q81 0 77 11 L58 11 Z" fill="#fff" stroke="#000" stroke-width="4.03" stroke-linejoin="round"/>
<path d="M55 -14 L55 14" fill="none" stroke="#000" stroke-width="3.66" stroke-linejoin="round"/>
<ellipse cx="79.5" cy="0" rx="2" ry="3.5" fill="#fff" stroke="#000" stroke-width="3.17"/>
</g>
</g>
<g transform="translate(-61 81.3)">
<path d="M 574.5 943.2 L 577.4 930.7 L 587.1 921.6 L 601.6 921 L 609.4 930.7 L 610.7 945.2 L 604.5 960.7 L 590 964.5 L 577.4 955.8 Z" fill="#fff" stroke="#000" stroke-width="5.25" stroke-linejoin="round"/>
<path d="M 587.1 921.6 L 592.5 926.8 L 591 945.2 L 583.2 957.8 L 577.4 955.8 M 592.5 926.8 L 606.1 926.2 M 591 945.2 L 600.7 947.5 M 583.2 957.8 L 590 964.5" fill="none" stroke="#000" stroke-width="3.9" stroke-linejoin="round"/>
<path d="M 596.4 936.5 L 603.6 939 M 595.2 945.2 L 602.2 951.9 M 597.8 932 L 605.5 933.6 M 596.8 952.9 L 600.7 957.8" fill="none" stroke="#000" stroke-width="4.64" stroke-linejoin="round"/>
<g transform="translate(591.9 943.2) rotate(29.5)">
<ellipse cx="14" cy="0" rx="5" ry="9" fill="#000" stroke="#000" stroke-width="4.15"/>
<ellipse cx="20" cy="0" rx="4" ry="8.5" fill="#fff" stroke="#000" stroke-width="3.9"/>
<path d="M26 -11.5 L53 -11.5 L53 11.5 L26 11.5 Q21 0 26 -11.5 Z" fill="#fff" stroke="#000" stroke-width="4.03" stroke-linejoin="round"/>
<path d="M31 -11.5 Q27 0 31 11.5" fill="none" stroke="#000" stroke-width="3.42" stroke-linejoin="round"/>
<path d="M52 -14.5 L58 -14.5 L58 14.5 L52 14.5 Z" fill="#fff" stroke="#000" stroke-width="3.9" stroke-linejoin="round"/>
<path d="M58 -11 L77 -11 Q81 0 77 11 L58 11 Z" fill="#fff" stroke="#000" stroke-width="4.03" stroke-linejoin="round"/>
<path d="M55 -14 L55 14" fill="none" stroke="#000" stroke-width="3.66" stroke-linejoin="round"/>
<ellipse cx="79.5" cy="0" rx="2" ry="3.5" fill="#fff" stroke="#000" stroke-width="3.17"/>
</g>
</g>
<path d="M 681 898.7 L 683.9 886.1 L 693.6 877 L 708.1 876.5 L 715.8 886.1 L 717.2 900.7 L 711 916.1 L 696.5 920 L 683.9 911.3 Z" fill="#fff" stroke="#000" stroke-width="5.25" stroke-linejoin="round"/>
<path d="M 693.6 877 L 699 882.3 L 697.4 900.7 L 689.7 913.2 L 683.9 911.3 M 699 882.3 L 712.5 881.7 M 697.4 900.7 L 707.1 903 M 689.7 913.2 L 696.5 920" fill="none" stroke="#000" stroke-width="3.9" stroke-linejoin="round"/>
<path d="M 702.9 891.9 L 710 894.5 M 701.7 900.7 L 708.7 907.4 M 704.2 887.5 L 712 889 M 703.3 908.4 L 707.1 913.2" fill="none" stroke="#000" stroke-width="4.64" stroke-linejoin="round"/>
<path d="M 713.9 897.7 Q 731.3 906.5 742.9 922.3 L 732.3 932.6 Q 722.6 918.1 708.7 908.4 Z" fill="#fff" stroke="#000" stroke-width="4.15" stroke-linejoin="round"/>
<path d="M 711 903 Q 726.5 910.3 737.1 927.8" fill="none" stroke="#000" stroke-width="3.42" stroke-linejoin="round"/>
<ellipse cx="710" cy="901.6" rx="4.3" ry="8.1" fill="#000" stroke="#000" stroke-width="4.15" transform="rotate(30 710 901.6)"/>
<g transform="translate(735.2 923.9) rotate(63)">
<path d="M0 -11 L14 -11 L14 11 L0 11 Z" fill="#fff" stroke="#000" stroke-width="4.03" stroke-linejoin="round"/>
<path d="M5 -4 L10 -4 L10 3 L5 3 Z" fill="none" stroke="#000" stroke-width="2.93" stroke-linejoin="round"/>
<path d="M14 -13.5 L41 -13.5 L41 13.5 L14 13.5 Z" fill="#fff" stroke="#000" stroke-width="4.03" stroke-linejoin="round"/>
<path d="M41 -17 L47 -17 L47 17 L41 17 Z" fill="#000" stroke="#000" stroke-width="3.9" stroke-linejoin="round"/>
<path d="M47 -10 L59 -10 Q63 0 59 10 L47 10 Z" fill="#fff" stroke="#000" stroke-width="4.03" stroke-linejoin="round"/>
<ellipse cx="61" cy="0" rx="2.5" ry="5" fill="#fff" stroke="#000" stroke-width="3.17"/>
</g>
</g>
<g id="s33_tee_a">
<path d="M 154.2 984.8 L 166.8 969.4 L 179.4 969 L 199.7 981.9 L 200.3 1004.2 L 191 1014.3 L 177.8 1013.1 L 155.2 998.8 Z" fill="#fff" stroke="#000" stroke-width="3.9" stroke-linejoin="round"/>
<path d="M 154.2 984.8 L 176.5 997.4 L 177.8 1013.1 M 166.8 969.4 L 188.1 981.9 L 176.5 997.4 M 188.1 981.9 L 199.7 981.9" fill="none" stroke="#000" stroke-width="3.42" stroke-linejoin="round"/>
<ellipse cx="188.1" cy="998.4" rx="7.4" ry="12" fill="none" stroke="#000" stroke-width="3.66" transform="rotate(-25 188.1 998.4)"/>
<path d="M 189.1 991.6 L 200.7 998.4 L 200.7 1008.1 L 192.9 1011.9" fill="#fff" stroke="#000" stroke-width="3.66" stroke-linejoin="round"/>
<path d="M 196.8 1001.9 L 218.1 988.7 L 240.9 1001.3 L 240.9 1008.5 L 219.1 1022 L 196.8 1008.5 Z" fill="#fff" stroke="#000" stroke-width="3.9" stroke-linejoin="round"/>
<path d="M 196.8 1001.9 L 219.1 1014.8 L 240.9 1001.3 M 219.1 1014.8 L 219.1 1035.2" fill="none" stroke="#000" stroke-width="3.42" stroke-linejoin="round"/>
<path d="M 197.2 1008.1 L 185.6 1020.1 M 215.2 1035.2 L 194.9 1045.6 M 240.9 1008.1 L 252 1019.7 M 222.9 1035.2 L 243.3 1045.6" fill="none" stroke="#000" stroke-width="3.66" stroke-linejoin="round"/>
<path d="M 215.2 1032.3 L 219.1 1036.1 L 222.9 1032.3" fill="none" stroke="#000" stroke-width="3.17" stroke-linejoin="round"/>
<ellipse cx="190" cy="1032.3" rx="10.1" ry="13.9" fill="#fff" stroke="#000" stroke-width="3.9" transform="rotate(-25 190 1032.3)"/>
<ellipse cx="189.1" cy="1032.8" rx="5.4" ry="7.4" fill="none" stroke="#000" stroke-width="3.42" transform="rotate(-25 189.1 1032.8)"/>
<ellipse cx="189.1" cy="1032.8" rx="2.1" ry="2.9" fill="none" stroke="#000" stroke-width="2.93" transform="rotate(-25 189.1 1032.8)"/>
<ellipse cx="247.5" cy="1032.3" rx="10.1" ry="13.9" fill="#fff" stroke="#000" stroke-width="3.9" transform="rotate(-25 247.5 1032.3)"/>
<ellipse cx="246.5" cy="1032.8" rx="5.4" ry="7.4" fill="none" stroke="#000" stroke-width="3.42" transform="rotate(-25 246.5 1032.8)"/>
<ellipse cx="246.5" cy="1032.8" rx="2.1" ry="2.9" fill="none" stroke="#000" stroke-width="2.93" transform="rotate(-25 246.5 1032.8)"/>
<path d="M 104.8 1064.2 Q 72.9 1085.5 65.2 1133.9 L 86.5 1132.9 Q 92.3 1099.1 118.4 1085.5 Z" fill="#fff" stroke="#000" stroke-width="3.9" stroke-linejoin="round"/>
<path d="M 112.6 1055.5 L 123.2 1046.8 L 134.9 1046.8 L 146.5 1058.4 L 147.4 1073.9 L 136.8 1085.5 L 125.2 1083.6 L 113.6 1073.9 Z" fill="#fff" stroke="#000" stroke-width="3.9" stroke-linejoin="round"/>
<path d="M 123.2 1046.8 L 131 1060.3 L 136.8 1085.5 M 131 1060.3 L 146.5 1058.4 M 106.8 1062.3 L 117.4 1083.6 M 109.7 1059.4 L 121.3 1081.6 M 116.5 1055.5 L 128.1 1079.7" fill="none" stroke="#000" stroke-width="3.42" stroke-linejoin="round"/>
<path d="M 63.2 1131 L 69 1140.7 L 86.5 1140.7 L 91.9 1131 M 69 1140.7 L 69 1145.5 M 86.5 1140.7 L 86.5 1145.5" fill="none" stroke="#000" stroke-width="3.66" stroke-linejoin="round"/>
<path d="M 59.4 1143.6 L 61.3 1147.4 L 60.3 1182.3 Q 61.3 1192 77.7 1192.9 Q 95.2 1192 95.7 1182.3 L 95.2 1147.4 L 96.5 1143.6 L 91.9 1131 L 63.2 1131 Z" fill="none" stroke="#000" stroke-width="3.9" stroke-linejoin="round"/>
<path d="M 61.3 1147.4 Q 77.7 1153.3 95.2 1147.4" fill="none" stroke="#000" stroke-width="3.42" stroke-linejoin="round"/>
<path d="M 64.2 1153.3 L 64.2 1187.1 M 67.1 1154.2 L 67.1 1189.1 M 91.3 1153.3 L 91.3 1187.1" fill="none" stroke="#000" stroke-width="2.93" stroke-linejoin="round"/>
<path d="M 281 1058.4 L 289.7 1042.9 L 305.2 1038.7 L 318.7 1046.8 L 321.6 1062.3 L 311 1079.7 L 295.5 1081.6 L 282 1072 Z" fill="#fff" stroke="#000" stroke-width="4.15" stroke-linejoin="round"/>
<path d="M 289.7 1042.9 L 297.5 1054.5 L 295.5 1081.6 M 297.5 1054.5 L 314.9 1050.7 M 307.1 1058.4 L 311 1066.1 M 303.3 1068.1 L 307.1 1073.9" fill="none" stroke="#000" stroke-width="3.66" stroke-linejoin="round"/>
<ellipse cx="313.9" cy="1064.2" rx="6.2" ry="10.6" fill="#000" stroke="#000" stroke-width="4.15" transform="rotate(25 313.9 1064.2)"/>
<path d="M 317.2 1061.9 L 347.6 1079.7 Q 369.1 1095.5 372.5 1122.7 L 372.5 1155.2 L 360.4 1155.2 L 360.4 1124.8 Q 359.6 1100.2 337.6 1084.8 L 314 1070.5 Z" fill="#fff" stroke="#000" stroke-width="4.64" stroke-linejoin="round"/>
<g transform="translate(366.2 1154)">
<path d="M-13 0 L-10 -4 L10 -4 L13 0 L13 22 L-13 22 Z" fill="#fff" stroke="#000" stroke-width="4.15" stroke-linejoin="round"/>
<path d="M-4 8 L3 8 L3 12 L-4 12 Z M-9 4 L-5 9 M9 4 L5 9 M-9 18 Q0 23 9 18" fill="none" stroke="#000" stroke-width="2.93" stroke-linejoin="round"/>
<path d="M-13 22 L13 22 L14 46 L-14 46 Z" fill="#fff" stroke="#000" stroke-width="4.15" stroke-linejoin="round"/>
<path d="M-8 40 Q0 50 8 40" fill="none" stroke="#000" stroke-width="3.17" stroke-linejoin="round"/>
<path d="M-16.5 45 L16.5 45 L16.5 50 L-16.5 50 Z" fill="#000" stroke="#000" stroke-width="3.17" stroke-linejoin="round"/>
<path d="M-13.5 50 L13.5 50 L14 78 Q8 84 2 78 Q-4 70 -10 78 L-13.5 80 Z" fill="#fff" stroke="#000" stroke-width="4.39" stroke-linejoin="round"/>
</g>
</g>
<g id="s34_tee_b">
<path d="M 166.8 1271.2 L 196.3 1253 L 211.1 1276.5 L 180.7 1294.2 Z" fill="#fff" stroke="#000" stroke-width="3.9" stroke-linejoin="round"/>
<path d="M 181.6 1262.6 L 196 1286.5 M 191.1 1289.5 L 201.5 1284.3" fill="none" stroke="#000" stroke-width="3.42" stroke-linejoin="round"/>
<path d="M 188.5 1290.3 L 199.8 1310.3 M 204.1 1283.4 L 218 1306.8" fill="none" stroke="#000" stroke-width="3.66" stroke-linejoin="round"/>
<path d="M 199.8 1310.3 L 225.8 1298.2 L 241.5 1324.2 L 237.1 1327.7 L 247.5 1345 L 222.4 1360.7 L 212.3 1342.8 L 192.8 1349.7 L 184.2 1321.6 Z" fill="#fff" stroke="#000" stroke-width="3.9" stroke-linejoin="round"/>
<path d="M 212.3 1342.8 L 237.1 1327.7 M 201.5 1312.9 L 213.7 1323.3 L 217.2 1335.5 M 213.7 1323.3 L 218.9 1333.8" fill="none" stroke="#000" stroke-width="3.42" stroke-linejoin="round"/>
<ellipse cx="189.4" cy="1335.1" rx="10.1" ry="15.3" fill="#fff" stroke="#000" stroke-width="3.9" transform="rotate(-28 189.4 1335.1)"/>
<ellipse cx="188.5" cy="1335.8" rx="5.2" ry="7.8" fill="none" stroke="#000" stroke-width="3.42" transform="rotate(-28 188.5 1335.8)"/>
<ellipse cx="188.5" cy="1335.8" rx="2.1" ry="3" fill="none" stroke="#000" stroke-width="2.93" transform="rotate(-28 188.5 1335.8)"/>
<path d="M 117.3 1359.8 Q 88.7 1378.9 95.6 1406.7 L 107.8 1422.3 L 117.3 1401.5 Q 109.5 1392.8 125.5 1384.4 Z" fill="#fff" stroke="#000" stroke-width="3.9" stroke-linejoin="round"/>
<path d="M 125.5 1384.4 Q 113 1391 115.6 1398.9 Q 121.7 1392.8 137.3 1395.4" fill="none" stroke="#000" stroke-width="3.66" stroke-linejoin="round"/>
<path d="M 119.9 1359.8 L 126.9 1349.4 L 139.9 1347.6 L 152.9 1359.8 L 155 1373.7 L 146 1385.8 L 135.6 1387.6 L 124.3 1382.4 Z" fill="#fff" stroke="#000" stroke-width="3.9" stroke-linejoin="round"/>
<path d="M 139.9 1347.6 L 137.3 1361.5 L 146 1385.8 M 137.3 1361.5 L 119.9 1359.8 M 114.7 1363.3 L 125.1 1384.1 M 122.5 1361.5 L 132.1 1385.8 M 128.6 1361.5 L 138.2 1386.7" fill="none" stroke="#000" stroke-width="3.42" stroke-linejoin="round"/>
<path d="M 117.3 1401.5 L 130.3 1400.6 L 166.8 1420.6 L 172 1431 L 170.3 1443.1 L 159.9 1455.3 L 149.4 1456.1 L 111.2 1432.7 L 106 1424 Z" fill="#fff" stroke="#000" stroke-width="3.9" stroke-linejoin="round"/>
<ellipse cx="160.2" cy="1438.3" rx="10.8" ry="18.1" fill="#fff" stroke="#000" stroke-width="3.9" transform="rotate(25 160.2 1438.3)"/>
<path d="M 130.3 1406.7 L 158.1 1420.6 M 132.1 1409.3 L 159 1423.2 M 115.6 1427.5 L 142.5 1442.3 M 117.3 1430.1 L 140.8 1443.1" fill="none" stroke="#000" stroke-width="3.17" stroke-linejoin="round"/>
<path d="M 113 1404.1 Q 106 1413.6 112.1 1430.1" fill="none" stroke="#000" stroke-width="3.42" stroke-linejoin="round"/>
<path d="M 247.5 1403.2 L 255.3 1394.5 L 269.2 1389.7 L 283.1 1396.2 L 288.3 1410.1 L 287.5 1420.6 L 271 1431 L 255.3 1424 Z" fill="#fff" stroke="#000" stroke-width="3.9" stroke-linejoin="round"/>
<path d="M 255.3 1394.5 L 260.6 1411.9 L 255.3 1424 M 260.6 1411.9 L 274.4 1404.9 L 283.1 1396.2 M 274.4 1404.9 L 279.7 1420.6" fill="none" stroke="#000" stroke-width="3.42" stroke-linejoin="round"/>
<path d="M 260.6 1415.3 Q 272.7 1420.6 286.6 1411.9 M 261.4 1420.6 Q 274.4 1424.9 287.5 1416.2 M 263.2 1425.8 Q 274.4 1429.2 287.5 1420.6" fill="none" stroke="#000" stroke-width="3.66" stroke-linejoin="round"/>
<path d="M 265.8 1438.8 L 269.2 1430.1 L 288.3 1422.3 L 297.9 1424.9 L 320.5 1464 L 318.7 1472.6 L 305.7 1483.1 L 289.2 1482.2 L 267.5 1444.9 Z" fill="#fff" stroke="#000" stroke-width="3.9" stroke-linejoin="round"/>
<ellipse cx="304.3" cy="1472.6" rx="17" ry="10.1" fill="#fff" stroke="#000" stroke-width="3.9" transform="rotate(-28 304.3 1472.6)"/>
<path d="M 290.9 1431 L 305.7 1455.3 M 293.5 1430.1 L 307.4 1453.5 M 271.8 1445.7 L 286.6 1470.9 M 274.4 1444.9 L 288.3 1468.3" fill="none" stroke="#000" stroke-width="3.17" stroke-linejoin="round"/>
<path d="M 266.6 1439.7 Q 279.7 1441.4 297 1426.6" fill="none" stroke="#000" stroke-width="3.42" stroke-linejoin="round"/>
</g>
<g id="s35_p45">
<path d="M 31.2 1667.5 L 35.9 1657.2 L 49.9 1650.1 L 63.9 1652 L 85.8 1689.3 L 84.5 1697.4 L 58.3 1710.5 L 51.8 1704.9 Z" fill="#fff" stroke="#000" stroke-width="3.9" stroke-linejoin="round"/>
<path d="M 31.6 1667.5 Q 48 1670.3 64.3 1652.5" fill="none" stroke="#000" stroke-width="3.42" stroke-linejoin="round"/>
<path d="M 58.3 1657.2 L 74.6 1685.6 M 61.1 1655.7 L 77.2 1683.7 M 37.2 1673.1 L 51.4 1698.7 M 39.8 1671.8 L 54 1696.8" fill="none" stroke="#000" stroke-width="3.17" stroke-linejoin="round"/>
<path d="M 52.1 1698.3 Q 68.6 1698.3 85 1689" fill="none" stroke="#000" stroke-width="3.42" stroke-linejoin="round"/>
<path d="M 58.3 1710.5 L 60.2 1702.1 L 76.1 1693.6 L 85.8 1697.4 L 88.2 1707.7 L 74.2 1718.9 L 64.9 1718.9 Z" fill="#fff" stroke="#000" stroke-width="3.66" stroke-linejoin="round"/>
<path d="M 60.2 1702.1 L 66.7 1709.5 L 64.9 1718.9 M 66.7 1709.5 L 85.8 1697.4" fill="none" stroke="#000" stroke-width="3.17" stroke-linejoin="round"/>
<path d="M 64.9 1723.6 L 69 1710.5 L 83.6 1704.3 L 100.7 1708 L 109 1720.7 L 107.9 1734.2 L 95.1 1747.3 L 79.8 1748.4 L 67.7 1737.9 Z" fill="#fff" stroke="#000" stroke-width="4.15" stroke-linejoin="round"/>
<path d="M 69 1710.5 L 76.1 1722.6 L 67.7 1737.9 M 76.1 1722.6 L 92 1717.9 L 100.7 1708 M 92 1717.9 L 107.9 1734.2" fill="none" stroke="#000" stroke-width="3.42" stroke-linejoin="round"/>
<ellipse cx="88.2" cy="1734.8" rx="16.4" ry="9" fill="#fff" stroke="#000" stroke-width="4.15" transform="rotate(-22 88.2 1734.8)"/>
<ellipse cx="88.2" cy="1735.7" rx="11.6" ry="5.6" fill="none" stroke="#000" stroke-width="3.66" transform="rotate(-22 88.2 1735.7)"/>
<path d="M 66.7 1715.1 Q 81.7 1707.7 102.2 1711.4 M 65.8 1718.9 Q 81.7 1712.3 105 1715.1" fill="none" stroke="#000" stroke-width="3.17" stroke-linejoin="round"/>
<path d="M 162.1 1577.2 L 166.7 1566.9 L 180.7 1559.8 L 194.8 1561.7 L 216.6 1599.1 L 215.3 1607.1 L 189.2 1620.2 L 182.6 1614.6 Z" fill="#fff" stroke="#000" stroke-width="3.9" stroke-linejoin="round"/>
<path d="M 162.4 1577.2 Q 178.9 1580 195.1 1562.2" fill="none" stroke="#000" stroke-width="3.42" stroke-linejoin="round"/>
<path d="M 189.2 1566.9 L 205.4 1595.3 M 192 1565.4 L 208 1593.5 M 168 1582.8 L 182.2 1608.4 M 170.7 1581.5 L 184.9 1606.5" fill="none" stroke="#000" stroke-width="3.17" stroke-linejoin="round"/>
<path d="M 183 1608 Q 199.4 1608 215.9 1598.7" fill="none" stroke="#000" stroke-width="3.42" stroke-linejoin="round"/>
<path d="M 189.2 1620.2 L 191 1611.8 L 206.9 1603.4 L 216.6 1607.1 L 219.1 1617.4 L 205 1628.6 L 195.7 1628.6 Z" fill="#fff" stroke="#000" stroke-width="3.66" stroke-linejoin="round"/>
<path d="M 191 1611.8 L 197.6 1619.3 L 195.7 1628.6 M 197.6 1619.3 L 216.6 1607.1" fill="none" stroke="#000" stroke-width="3.17" stroke-linejoin="round"/>
<path d="M 195.7 1633.3 L 199.8 1620.2 L 214.4 1614 L 231.6 1617.8 L 239.8 1630.5 L 238.7 1643.9 L 226 1657 L 210.7 1658.1 L 198.5 1647.7 Z" fill="#fff" stroke="#000" stroke-width="4.15" stroke-linejoin="round"/>
<path d="M 199.8 1620.2 L 206.9 1632.3 L 198.5 1647.7 M 206.9 1632.3 L 222.8 1627.7 L 231.6 1617.8 M 222.8 1627.7 L 238.7 1643.9" fill="none" stroke="#000" stroke-width="3.42" stroke-linejoin="round"/>
<ellipse cx="219.1" cy="1644.5" rx="16.4" ry="9" fill="#fff" stroke="#000" stroke-width="4.15" transform="rotate(-22 219.1 1644.5)"/>
<ellipse cx="219.1" cy="1645.4" rx="11.6" ry="5.6" fill="none" stroke="#000" stroke-width="3.66" transform="rotate(-22 219.1 1645.4)"/>
<path d="M 197.6 1624.9 Q 212.5 1617.4 233.1 1621.1 M 196.6 1628.6 Q 212.5 1622.1 235.9 1624.9" fill="none" stroke="#000" stroke-width="3.17" stroke-linejoin="round"/>
<path d="M 93.8 1767.5 L 120.9 1753.5 L 129.3 1767.5 L 102.2 1782.4 Z" fill="#fff" stroke="#000" stroke-width="3.9" stroke-linejoin="round"/>
<path d="M 103.2 1778.7 L 128.4 1765.2" fill="none" stroke="#000" stroke-width="6.1" stroke-linejoin="round"/>
<path d="M 92.9 1791.2 L 102.2 1782.8 L 132.1 1767.1 L 141.5 1764.7 L 155 1773.1 L 155 1785.2 L 150.8 1784.3 L 130.3 1797.4 L 130.7 1818.9 L 124.7 1823.9 Q 100.4 1812.3 92.9 1791.2 Z" fill="#fff" stroke="#000" stroke-width="3.9" stroke-linejoin="round"/>
<path d="M 117.2 1783.4 Q 113.5 1789.9 116.3 1797.4 M 122.8 1782.4 Q 119.1 1789.9 122.4 1796.4 M 129.3 1780.6 Q 125.6 1787.1 128.4 1794.6" fill="none" stroke="#000" stroke-width="2.93" stroke-linejoin="round"/>
<path d="M 130.3 1797.4 L 150.8 1784.3 L 156.8 1788.4 L 156.8 1808.6 L 136.3 1822.1 L 130.7 1818.9 Z" fill="#fff" stroke="#000" stroke-width="3.9" stroke-linejoin="round"/>
<path d="M 136.3 1822.1 L 135.9 1801.1 L 156.8 1788.4 M 135.9 1801.1 L 130.3 1797.4" fill="none" stroke="#000" stroke-width="3.42" stroke-linejoin="round"/>
<ellipse cx="150.8" cy="1805.8" rx="7.9" ry="14.6" fill="#fff" stroke="#000" stroke-width="3.9" transform="rotate(25 150.8 1805.8)"/>
<ellipse cx="157.4" cy="1809.5" rx="7.5" ry="13.5" fill="#fff" stroke="#000" stroke-width="3.9" transform="rotate(25 157.4 1809.5)"/>
<ellipse cx="163.9" cy="1812.7" rx="6.7" ry="12" fill="#fff" stroke="#000" stroke-width="4.39" transform="rotate(25 163.9 1812.7)"/>
<ellipse cx="168.6" cy="1815.7" rx="5.2" ry="9.3" fill="#fff" stroke="#000" stroke-width="3.9" transform="rotate(25 168.6 1815.7)"/>
<ellipse cx="169.5" cy="1816.4" rx="2.2" ry="4.1" fill="none" stroke="#000" stroke-width="3.17" transform="rotate(25 169.5 1816.4)"/>
<path d="M 229.3 1689 L 255.5 1675 L 263 1689 L 236.8 1703.9 Z" fill="#fff" stroke="#000" stroke-width="3.9" stroke-linejoin="round"/>
<path d="M 237.8 1700.6 L 262.6 1687.1" fill="none" stroke="#000" stroke-width="6.1" stroke-linejoin="round"/>
<path d="M 240.6 1736.6 L 241.5 1746.9 Q 259.3 1755.3 277 1745.4 L 277.9 1736.6 Z" fill="#fff" stroke="#000" stroke-width="3.9" stroke-linejoin="round"/>
<path d="M 247.1 1749.7 L 248 1762.2 Q 260.2 1767.9 273.3 1761.5 L 273.3 1750.7" fill="#fff" stroke="#000" stroke-width="3.9" stroke-linejoin="round"/>
<path d="M 229.3 1713.6 L 236.8 1706.2 L 263 1691.2 L 277.9 1685.2 L 289.5 1702.4 L 289.5 1728.6 L 276.4 1739.8 L 263 1741.7 L 244.3 1737.9 L 231.2 1726.7 Z" fill="#fff" stroke="#000" stroke-width="3.9" stroke-linejoin="round"/>
<path d="M 251.8 1704.3 Q 264.9 1718.9 265.2 1740.4" fill="none" stroke="#000" stroke-width="2.93" stroke-linejoin="round"/>
<path d="M 249.5 1719.3 L 263.4 1713.3 M 255.1 1709.5 L 259.6 1723 M 279.8 1701.1 L 285.4 1702.1 M 233.1 1724.5 L 236.8 1725.4" fill="none" stroke="#000" stroke-width="2.68" stroke-linejoin="round"/>
</g>
<g id="s36_block">
<path d="M 197.3 1809.2 L 239.3 1785.4 L 252.9 1793.3 L 252.9 1804 L 263.1 1799 L 306.3 1822.8 L 306.3 1903.4 L 263.1 1928.4 L 218.9 1903.4 L 218.9 1896.6 L 207.5 1895.5 L 197.3 1889.8 Z" fill="#fff" stroke="#000" stroke-width="3.9" stroke-linejoin="round"/>
<path d="M 201.9 1810.8 L 239.3 1789.3 L 249.5 1794.9 L 210.2 1817.6 Z" fill="none" stroke="#000" stroke-width="3.42" stroke-linejoin="round"/>
<path d="M 252.9 1804 L 221.1 1821.7 L 264.3 1846.7 L 306.3 1822.8 M 264.3 1846.7 L 264.3 1928.4 M 221.1 1821.7 L 221.6 1835.3 L 217.1 1836.5 L 216.2 1829.7 M 209.8 1885.3 Q 214.8 1880.3 218.9 1885.7 L 218.9 1896.6" fill="none" stroke="#000" stroke-width="3.66" stroke-linejoin="round"/>
<ellipse cx="260.9" cy="1821.7" rx="23.8" ry="13.6" fill="none" stroke="#000" stroke-width="3.9"/>
<ellipse cx="260.9" cy="1822.8" rx="16.3" ry="9.1" fill="none" stroke="#000" stroke-width="3.9"/>
<ellipse cx="260.9" cy="1824.4" rx="10.2" ry="5.4" fill="none" stroke="#000" stroke-width="3.42"/>
<path d="M 287 1856.9 L 297.2 1856.2 L 361.9 1896.6 Q 374.3 1913.6 366.4 1932.9 Q 357.3 1947 339.2 1944.3 L 272.2 1905.7 Q 263.1 1896.6 267.7 1878.4 Q 273.3 1863.7 287 1856.9 Z" fill="#fff" stroke="#000" stroke-width="3.9" stroke-linejoin="round"/>
<path d="M 276.7 1870.5 L 344.8 1911.4 M 269.9 1894.3 L 335.8 1932.9 M 287 1856.9 Q 271.1 1867.1 267.7 1896.6" fill="none" stroke="#000" stroke-width="3.42" stroke-linejoin="round"/>
<ellipse cx="352.8" cy="1921.6" rx="16.3" ry="24.5" fill="#fff" stroke="#000" stroke-width="3.9" transform="rotate(22 352.8 1921.6)"/>
<ellipse cx="353.9" cy="1921.6" rx="12.5" ry="20" fill="none" stroke="#000" stroke-width="3.42" transform="rotate(22 353.9 1921.6)"/>
<path d="M 353.9 1914.8 L 359.6 1920.4 L 355.1 1929.5 L 348.7 1922.7 Z" fill="none" stroke="#000" stroke-width="3.17" stroke-linejoin="round"/>
<path d="M 335.8 1932.9 Q 331.2 1921.6 338 1908 Q 341.4 1902.3 344.8 1911.4" fill="none" stroke="#000" stroke-width="3.17" stroke-linejoin="round"/>
<path d="M 91.8 1897.1 L 138.3 1867.1 L 146.2 1876.2 L 94.5 1907.5 Z" fill="#fff" stroke="#000" stroke-width="3.66" stroke-linejoin="round"/>
<path d="M 72.5 1903.4 L 77 1894.3 L 86.1 1891.6 L 94 1898.9 L 95.2 1909.1 L 89.5 1917 L 80.4 1917.5 L 73.6 1911.4 Z" fill="#fff" stroke="#000" stroke-width="3.9" stroke-linejoin="round"/>
<path d="M 86.1 1891.6 L 88.4 1901.1 L 89.5 1917 M 88.4 1901.1 L 94 1898.9" fill="none" stroke="#000" stroke-width="3.17" stroke-linejoin="round"/>
<path d="M 119.5 1878.9 Q 124.5 1883.9 122.2 1889.8" fill="none" stroke="#000" stroke-width="3.17" stroke-linejoin="round"/>
<path d="M 123.3 1876.6 Q 128.3 1881.6 126 1887.5" fill="none" stroke="#000" stroke-width="3.17" stroke-linejoin="round"/>
<path d="M 127.2 1874.4 Q 132.2 1879.4 129.9 1885.3" fill="none" stroke="#000" stroke-width="3.17" stroke-linejoin="round"/>
<path d="M 131 1872.1 Q 136 1877.1 133.8 1883" fill="none" stroke="#000" stroke-width="3.17" stroke-linejoin="round"/>
<path d="M 134.9 1869.8 Q 139.9 1874.8 137.6 1880.7" fill="none" stroke="#000" stroke-width="3.17" stroke-linejoin="round"/>
<path d="M 138.8 1867.6 Q 143.7 1872.5 141.5 1878.4" fill="none" stroke="#000" stroke-width="3.17" stroke-linejoin="round"/>
<path d="M 142.6 1865.3 Q 147.6 1870.3 145.3 1876.2" fill="none" stroke="#000" stroke-width="3.17" stroke-linejoin="round"/>
<ellipse cx="142.2" cy="1871.6" rx="3.6" ry="5.9" fill="#fff" stroke="#000" stroke-width="3.42" transform="rotate(30 142.2 1871.6)"/>
<path d="M 327.8 1744.5 L 332.8 1741.1 L 351 1750.2 L 351 1836.5 L 346 1839.9 L 327.8 1829.7 Z" fill="#fff" stroke="#000" stroke-width="3.9" stroke-linejoin="round"/>
<path d="M 327.8 1744.5 L 346 1753.6 L 346 1839.9 M 346 1753.6 L 351 1750.2" fill="none" stroke="#000" stroke-width="3.42" stroke-linejoin="round"/>
<ellipse cx="336.9" cy="1757" rx="3.9" ry="5.7" fill="none" stroke="#000" stroke-width="3.66" transform="rotate(-10 336.9 1757)"/>
<ellipse cx="336.9" cy="1824.4" rx="5" ry="6.8" fill="none" stroke="#000" stroke-width="3.66" transform="rotate(-10 336.9 1824.4)"/>
<ellipse cx="396.5" cy="1722.7" rx="9.5" ry="14" fill="#fff" stroke="#000" stroke-width="4.15" transform="rotate(-25 396.5 1722.7)"/>
<ellipse cx="396.5" cy="1722.7" rx="4" ry="6.5" fill="none" stroke="#000" stroke-width="3.17" transform="rotate(-25 396.5 1722.7)"/>
<ellipse cx="393.5" cy="1721.5" rx="9.5" ry="14" fill="none" stroke="#000" stroke-width="2.93" transform="rotate(-25 393.5 1721.5)"/>
<path d="M441 1684 L449 1677 L459 1678 L464 1687 L462 1699 L454 1705 L444 1702 L440 1693 Z" fill="#fff" stroke="#000" stroke-width="3.9" stroke-linejoin="round"/>
<ellipse cx="451" cy="1691" rx="6.5" ry="9.5" fill="none" stroke="#000" stroke-width="3.42" transform="rotate(-25 451 1691)"/>
<path d="M449 1677 L452 1683 M459 1678 L462 1699" fill="none" stroke="#000" stroke-width="2.68" stroke-linejoin="round"/>
</g>
<g id="s37_straps">
<path d="M398.1 1854.7 L571.1 1755.2 L566.9 1747.8 L393.9 1847.3Z" fill="#fff" stroke="#000" stroke-width="3.54" stroke-linejoin="round"/>
<path d="M395.1 1849.5 L568.1 1750" fill="none" stroke="#000" stroke-width="2.93" stroke-linejoin="round"/>
<path d="M485 1799.5 L566.4 1753" fill="none" stroke="#000" stroke-width="5.61" stroke-dasharray="2.2 2 2.2 2 2.2 2 2.2 5" stroke-linejoin="round"/>
<path d="M369 1853 L389 1842 L397 1846 L398 1866 L377 1878 L369 1873 Z" fill="#fff" stroke="#000" stroke-width="3.42" stroke-linejoin="round"/>
<path d="M369 1853 L377 1858 L377 1878 M377 1858 L397 1846" fill="none" stroke="#000" stroke-width="2.93" stroke-linejoin="round"/>
<path d="M375 1850 L387 1844 L393 1847 L381 1854 Z" fill="none" stroke="#000" stroke-width="2.44" stroke-linejoin="round"/>
<path d="M1167.8 849.4 L994.8 954.9 L999.2 962.1 L1172.2 856.6Z" fill="#fff" stroke="#000" stroke-width="3.54" stroke-linejoin="round"/>
<path d="M1170.9 854.5 L997.9 960" fill="none" stroke="#000" stroke-width="2.93" stroke-linejoin="round"/>
<path d="M1080 909.5 L999.6 956.9" fill="none" stroke="#000" stroke-width="5.61" stroke-dasharray="2.2 2 2.2 2 2.2 2 2.2 5" stroke-linejoin="round"/>
<path d="M1165 842 L1185 831 L1196 837 L1196 858 L1176 868 L1166 862 Z" fill="#fff" stroke="#000" stroke-width="3.42" stroke-linejoin="round"/>
<path d="M1176 868 L1176 846 L1196 837 M1176 846 L1165 842" fill="none" stroke="#000" stroke-width="2.93" stroke-linejoin="round"/>
<path d="M1181 849 L1191 844 L1191 856 L1181 861 Z" fill="none" stroke="#000" stroke-width="2.44" stroke-linejoin="round"/>
</g>
<g id="s38_clamp">
<path d="M809.1 1053.6 A59.9 34.6 0 0 1 928.5 1049" fill="none" stroke="#000" stroke-width="4.64" stroke-linejoin="round"/>
<path d="M814.1 1055.3 A54.5 30.6 0 0 1 923.9 1053.6" fill="none" stroke="#000" stroke-width="3.42" stroke-linejoin="round"/>
<path d="M 809.1 1058.1 Q 816.1 1076.3 842.2 1083.6" fill="none" stroke="#000" stroke-width="3.66" stroke-linejoin="round"/>
<path d="M 815.5 1058.1 Q 821.8 1071.7 846.8 1078" fill="none" stroke="#000" stroke-width="3.66" stroke-linejoin="round"/>
<path d="M 923.9 1053.6 Q 922.8 1067.2 904.6 1073.4 L 908 1077.4 Q 923.9 1069.5 927.9 1058.1" fill="none" stroke="#000" stroke-width="3.66" stroke-linejoin="round"/>
<path d="M 809.1 1053.6 L 809.1 1160.3 Q 812.7 1183 843.3 1192 L 848.5 1187.5" fill="none" stroke="#000" stroke-width="4.64" stroke-linejoin="round"/>
<path d="M 841.6 1083.1 L 848.5 1078.5 L 848.5 1187.5 L 843.3 1192 L 841.6 1189.8 Z" fill="#222" stroke="#000" stroke-width="3.17" stroke-linejoin="round"/>
<path d="M 928.5 1049 L 928.5 1167.1 Q 926.2 1177.3 910.3 1185.5 L 903.5 1181.8 L 903.5 1074" fill="none" stroke="#000" stroke-width="4.39" stroke-linejoin="round"/>
<path d="M 908 1077.4 L 908 1183.5 M 911.5 1076.3 L 911.7 1181.8" fill="none" stroke="#000" stroke-width="2.93" stroke-linejoin="round"/>
<path d="M 848.5 1134.7 Q 875.1 1126.8 903.5 1138.7" fill="none" stroke="#000" stroke-width="4.39" stroke-linejoin="round"/>
</g>
<g id="s39_plugs">
<g transform="translate(774.9 1192)">
<path d="M-12 3 Q-12 0 -9 0 L9 0 Q12 0 12 3 L12 18 L-12 18 Z" fill="#fff" stroke="#000" stroke-width="4.64" stroke-linejoin="round"/>
<path d="M-7 15 Q0 19 7 15" fill="none" stroke="#000" stroke-width="3.17" stroke-linejoin="round"/>
<path d="M-16 15 L-13 12 L13 12 L16 15 L16 19 L13 22 L-13 22 L-16 19 Z" fill="#000" stroke="#000" stroke-width="2.93" stroke-linejoin="round"/>
<path d="M-13.5 22 L13.5 22 L13.5 46 Q13 53 0 54 Q-13 53 -13.5 46 Z" fill="#fff" stroke="#000" stroke-width="4.64" stroke-linejoin="round"/>
<path d="M-8 42 Q0 49 8 42" fill="none" stroke="#000" stroke-width="4.15" stroke-linejoin="round"/>
<ellipse cx="0" cy="63" rx="12.5" ry="8" fill="#fff" stroke="#000" stroke-width="4.39"/>
<path d="M0 55 L0 66" fill="none" stroke="#000" stroke-width="4.15" stroke-linejoin="round"/>
<path d="M-21.5 78 L-12 68 L12 68 L21.5 78 L21.5 87 L13 96 L-13 96 L-21.5 87 Z" fill="#fff" stroke="#000" stroke-width="4.88" stroke-linejoin="round"/>
<ellipse cx="0" cy="70" rx="9" ry="4.5" fill="none" stroke="#000" stroke-width="3.17"/>
<path d="M-16 78 L-8 86 L8 86 L16 78 M-8 86 L-8 95 M8 86 L8 95" fill="none" stroke="#000" stroke-width="3.42" stroke-linejoin="round"/>
<path d="M-9 76 L-4 80 M9 76 L4 80" fill="none" stroke="#000" stroke-width="3.66" stroke-linejoin="round"/>
</g>
<g transform="translate(835.8 1223.3)">
<path d="M-12 3 Q-12 0 -9 0 L9 0 Q12 0 12 3 L12 18 L-12 18 Z" fill="#fff" stroke="#000" stroke-width="4.64" stroke-linejoin="round"/>
<path d="M-7 15 Q0 19 7 15" fill="none" stroke="#000" stroke-width="3.17" stroke-linejoin="round"/>
<path d="M-16 15 L-13 12 L13 12 L16 15 L16 19 L13 22 L-13 22 L-16 19 Z" fill="#000" stroke="#000" stroke-width="2.93" stroke-linejoin="round"/>
<path d="M-13.5 22 L13.5 22 L13.5 46 Q13 53 0 54 Q-13 53 -13.5 46 Z" fill="#fff" stroke="#000" stroke-width="4.64" stroke-linejoin="round"/>
<path d="M-8 42 Q0 49 8 42" fill="none" stroke="#000" stroke-width="4.15" stroke-linejoin="round"/>
<ellipse cx="0" cy="63" rx="12.5" ry="8" fill="#fff" stroke="#000" stroke-width="4.39"/>
<path d="M0 55 L0 66" fill="none" stroke="#000" stroke-width="4.15" stroke-linejoin="round"/>
<path d="M-21.5 78 L-12 68 L12 68 L21.5 78 L21.5 87 L13 96 L-13 96 L-21.5 87 Z" fill="#fff" stroke="#000" stroke-width="4.88" stroke-linejoin="round"/>
<ellipse cx="0" cy="70" rx="9" ry="4.5" fill="none" stroke="#000" stroke-width="3.17"/>
<path d="M-16 78 L-8 86 L8 86 L16 78 M-8 86 L-8 95 M8 86 L8 95" fill="none" stroke="#000" stroke-width="3.42" stroke-linejoin="round"/>
<path d="M-9 76 L-4 80 M9 76 L4 80" fill="none" stroke="#000" stroke-width="3.66" stroke-linejoin="round"/>
</g>
<g transform="translate(874.4 1322)">
<path d="M-12 3 Q-12 0 -9 0 L9 0 Q12 0 12 3 L12 18 L-12 18 Z" fill="#fff" stroke="#000" stroke-width="4.64" stroke-linejoin="round"/>
<path d="M-7 15 Q0 19 7 15" fill="none" stroke="#000" stroke-width="3.17" stroke-linejoin="round"/>
<path d="M-16 15 L-13 12 L13 12 L16 15 L16 19 L13 22 L-13 22 L-16 19 Z" fill="#000" stroke="#000" stroke-width="2.93" stroke-linejoin="round"/>
<path d="M-13.5 22 L13.5 22 L13.5 46 Q13 53 0 54 Q-13 53 -13.5 46 Z" fill="#fff" stroke="#000" stroke-width="4.64" stroke-linejoin="round"/>
<path d="M-8 42 Q0 49 8 42" fill="none" stroke="#000" stroke-width="4.15" stroke-linejoin="round"/>
<ellipse cx="0" cy="63" rx="12.5" ry="8" fill="#fff" stroke="#000" stroke-width="4.39"/>
<path d="M0 55 L0 66" fill="none" stroke="#000" stroke-width="4.15" stroke-linejoin="round"/>
<path d="M-21.5 78 L-12 68 L12 68 L21.5 78 L21.5 87 L13 96 L-13 96 L-21.5 87 Z" fill="#fff" stroke="#000" stroke-width="4.88" stroke-linejoin="round"/>
<ellipse cx="0" cy="70" rx="9" ry="4.5" fill="none" stroke="#000" stroke-width="3.17"/>
<path d="M-16 78 L-8 86 L8 86 L16 78 M-8 86 L-8 95 M8 86 L8 95" fill="none" stroke="#000" stroke-width="3.42" stroke-linejoin="round"/>
<path d="M-9 76 L-4 80 M9 76 L4 80" fill="none" stroke="#000" stroke-width="3.66" stroke-linejoin="round"/>
</g>
</g>
<g id="s40_pump">
<path d="M 735.4 1476.8 L 756.8 1458.7 L 793.7 1460.2 L 816.7 1476.8 L 867.4 1536.6 L 881.2 1522.8 L 905.8 1505.9 L 918.1 1513.6 L 933.7 1538.2 L 933.7 1553.5 L 918.1 1615 L 904.2 1624.5 L 890.4 1626 L 867.4 1612.2 L 740 1538.5 L 730.7 1522.8 L 729.5 1498.3 Z" fill="#fff" stroke="#000" stroke-width="4.15" stroke-linejoin="round"/>
<path d="M 752.2 1470.9 L 867.4 1536.6" fill="none" stroke="#000" stroke-width="3.9" stroke-linejoin="round"/>
<path d="M 738.4 1495.5 L 856.6 1561.5" fill="none" stroke="#000" stroke-width="4.88" stroke-linejoin="round"/>
<path d="M 736.9 1521.6 L 855.1 1589.2" fill="none" stroke="#000" stroke-width="4.39" stroke-linejoin="round"/>
<path d="M 740 1538.5 L 867.4 1612.2" fill="none" stroke="#000" stroke-width="4.39" stroke-linejoin="round"/>
<path d="M 802.9 1530.5 L 856.6 1559.7" fill="none" stroke="#000" stroke-width="4.15" stroke-linejoin="round"/>
<path d="M 750.7 1532 L 858.2 1595" fill="none" stroke="#000" stroke-width="3.42" stroke-linejoin="round"/>
<path d="M 766.1 1492.1 L 827.5 1527.4" fill="none" stroke="#000" stroke-width="3.17" stroke-linejoin="round"/>
<path d="M 743 1476.8 L 738.4 1495.5 M 735.4 1476.8 L 747.6 1472.5 L 781.4 1491.4 L 816.7 1476.8 M 781.4 1491.4 L 784.5 1487.5 L 806 1473.7" fill="none" stroke="#000" stroke-width="3.9" stroke-linejoin="round"/>
<path d="M 809.1 1505.9 L 819.8 1497 M 815.2 1507.5 L 845.9 1522.8 L 858.2 1512.1 M 847.4 1524.4 L 867.4 1535.1 M 842.8 1521.3 L 855.1 1510.9" fill="none" stroke="#000" stroke-width="3.9" stroke-linejoin="round"/>
<path d="M 867.4 1536.6 L 862.8 1553.5 L 858.2 1581.2 L 867.4 1612.2 M 873.5 1538.2 L 871.2 1553.5 L 869.7 1581.2 L 878.1 1608.8 L 893.5 1621.1 L 904.2 1624.5 M 881.2 1522.8 L 873.5 1538.2 M 887.4 1522.8 L 906.5 1510.5 L 918.1 1519 L 928.8 1538.2" fill="none" stroke="#000" stroke-width="3.9" stroke-linejoin="round"/>
<ellipse cx="902.7" cy="1567.4" rx="20.7" ry="33" fill="none" stroke="#000" stroke-width="3.9" transform="rotate(22 902.7 1567.4)"/>
<ellipse cx="903.5" cy="1567.4" rx="16.1" ry="26.9" fill="none" stroke="#000" stroke-width="3.9" transform="rotate(22 903.5 1567.4)"/>
<ellipse cx="901.9" cy="1568.9" rx="10.7" ry="20" fill="none" stroke="#000" stroke-width="3.9" transform="rotate(22 901.9 1568.9)"/>
<path d="M 903.5 1563.5 L 925.7 1572 L 930.7 1575.3 L 927.6 1581.5 L 911.9 1576.6 L 901.9 1570.4 Z" fill="#fff" stroke="#000" stroke-width="3.9" stroke-linejoin="round"/>
<path d="M 905.8 1566.6 L 924.2 1574.3 M 905 1568.9 L 919.6 1576.6" fill="none" stroke="#000" stroke-width="3.17" stroke-linejoin="round"/>
<ellipse cx="905" cy="1527.4" rx="4.3" ry="5.8" fill="none" stroke="#000" stroke-width="3.9" transform="rotate(22 905 1527.4)"/>
<ellipse cx="902.7" cy="1610.7" rx="4.3" ry="5.8" fill="none" stroke="#000" stroke-width="3.9" transform="rotate(22 902.7 1610.7)"/>
<g transform="translate(776 1411)">
<path d="M-10.5 3 L-10.5 14 L10.5 14 L10.5 3" fill="#fff" stroke="#000" stroke-width="3.9" stroke-linejoin="round"/>
<path d="M-10.5 4 Q-10 -1 -5 -1 M10.5 4 Q10 -1 5 -1" fill="none" stroke="#000" stroke-width="3.9" stroke-linejoin="round"/>
<path d="M-10 6 Q0 11 10 6 M-10 10 Q0 15 10 10 M-10 2.5 Q0 7 10 2.5" fill="none" stroke="#000" stroke-width="3.42" stroke-linejoin="round"/>
<path d="M-15 16 L-11 13 L11 13 L15 16 L15 52 L11 62 L-11 62 L-15 52 Z" fill="#fff" stroke="#000" stroke-width="4.15" stroke-linejoin="round"/>
<path d="M-7 18 L-7 50 M7 18 L7 50 M-15 16 L-7 19 L7 19 L15 16 M-15 50 L-7 53 L7 53 L15 50 M-7 53 L-7 62 M7 53 L7 62" fill="none" stroke="#000" stroke-width="3.17" stroke-linejoin="round"/>
</g>
<g transform="translate(838.2 1442)">
<path d="M-10.5 3 L-10.5 14 L10.5 14 L10.5 3" fill="#fff" stroke="#000" stroke-width="3.9" stroke-linejoin="round"/>
<path d="M-10.5 4 Q-10 -1 -5 -1 M10.5 4 Q10 -1 5 -1" fill="none" stroke="#000" stroke-width="3.9" stroke-linejoin="round"/>
<path d="M-10 6 Q0 11 10 6 M-10 10 Q0 15 10 10 M-10 2.5 Q0 7 10 2.5" fill="none" stroke="#000" stroke-width="3.42" stroke-linejoin="round"/>
<path d="M-15 16 L-11 13 L11 13 L15 16 L15 52 L11 62 L-11 62 L-15 52 Z" fill="#fff" stroke="#000" stroke-width="4.15" stroke-linejoin="round"/>
<path d="M-7 18 L-7 50 M7 18 L7 50 M-15 16 L-7 19 L7 19 L15 16 M-15 50 L-7 53 L7 53 L15 50 M-7 53 L-7 62 M7 53 L7 62" fill="none" stroke="#000" stroke-width="3.17" stroke-linejoin="round"/>
</g>
<g transform="translate(875.1 1468)">
<path d="M-10.5 3 L-10.5 14 L10.5 14 L10.5 3" fill="#fff" stroke="#000" stroke-width="3.9" stroke-linejoin="round"/>
<path d="M-10.5 4 Q-10 -1 -5 -1 M10.5 4 Q10 -1 5 -1" fill="none" stroke="#000" stroke-width="3.9" stroke-linejoin="round"/>
<path d="M-10 6 Q0 11 10 6 M-10 10 Q0 15 10 10 M-10 2.5 Q0 7 10 2.5" fill="none" stroke="#000" stroke-width="3.42" stroke-linejoin="round"/>
<path d="M-15 16 L-11 13 L11 13 L15 16 L15 52 L11 62 L-11 62 L-15 52 Z" fill="#fff" stroke="#000" stroke-width="4.15" stroke-linejoin="round"/>
<path d="M-7 18 L-7 50 M7 18 L7 50 M-15 16 L-7 19 L7 19 L15 16 M-15 50 L-7 53 L7 53 L15 50 M-7 53 L-7 62 M7 53 L7 62" fill="none" stroke="#000" stroke-width="3.17" stroke-linejoin="round"/>
</g>
</g>
<g id="s41_pipe">
<path d="M 694.7 1590.3 Q 705.1 1579.9 710.3 1553 L 805.8 1606.8 Q 816.2 1612.9 811 1625.4 L 796.2 1646.8" fill="none" stroke="#000" stroke-width="3.42" stroke-linejoin="round"/>
<path d="M 806.6 1618.1 L 793.6 1644.2" fill="none" stroke="#000" stroke-width="2.68" stroke-linejoin="round"/>
<path d="M 703.3 1704.1 Q 755.4 1689.3 776.2 1664.1" fill="none" stroke="#000" stroke-width="3.17" stroke-linejoin="round"/>
<path d="M 710.3 1711 Q 758.9 1696.2 783.2 1667.6" fill="none" stroke="#000" stroke-width="3.9" stroke-linejoin="round"/>
<path d="M 777.1 1634.6 L 812.7 1654.6 Q 828.3 1661.5 829.2 1644.2 L 826.6 1593.8 L 845.7 1600.8 L 848.3 1654.6 Q 847.4 1692.8 805.8 1678.9 L 771 1661.5 Z" fill="#fff" stroke="#000" stroke-width="4.39" stroke-linejoin="round"/>
<ellipse cx="758.9" cy="1641.6" rx="7.8" ry="15.3" fill="#fff" stroke="#000" stroke-width="4.15" transform="rotate(25 758.9 1641.6)"/>
<path d="M 758.9 1626.8 L 772.8 1633.8 M 753.7 1655.5 L 767.6 1662.4" fill="none" stroke="#000" stroke-width="4.15" stroke-linejoin="round"/>
<ellipse cx="770.7" cy="1648.5" rx="6.9" ry="15.3" fill="#fff" stroke="#000" stroke-width="4.39" transform="rotate(25 770.7 1648.5)"/>
<ellipse cx="774.5" cy="1649.7" rx="6.2" ry="14.2" fill="#fff" stroke="#000" stroke-width="3.66" transform="rotate(25 774.5 1649.7)"/>
<path d="M 777.1 1634.6 L 812.7 1654.6" fill="none" stroke="#000" stroke-width="4.15" stroke-linejoin="round"/>
<path d="M 640.8 1561.2 L 706.8 1596.4 Q 710.3 1606 698.1 1615 L 630.8 1577.3 Q 628.7 1567.8 640.8 1561.2 Z" fill="#fff" stroke="#000" stroke-width="3.9" stroke-linejoin="round"/>
<ellipse cx="638.2" cy="1567.4" rx="2.8" ry="4.2" fill="none" stroke="#000" stroke-width="3.17" transform="rotate(25 638.2 1567.4)"/>
<ellipse cx="700.7" cy="1604.6" rx="6.9" ry="10.8" fill="#fff" stroke="#000" stroke-width="4.15" transform="rotate(25 700.7 1604.6)"/>
<ellipse cx="700.7" cy="1604.9" rx="3" ry="5.2" fill="none" stroke="#000" stroke-width="3.42" transform="rotate(25 700.7 1604.9)"/>
<path d="M 710.3 1609.4 L 717.2 1602.5 L 731.1 1593.8 L 739.8 1595.6 L 741.5 1609.4 L 727.6 1616.4 L 713.8 1618.1 Z" fill="#fff" stroke="#000" stroke-width="4.39" stroke-linejoin="round"/>
<path d="M 712 1614.7 L 724.2 1606 M 717.2 1617.3 L 729.4 1608.6 M 731.1 1593.8 L 734.6 1606" fill="none" stroke="#000" stroke-width="3.9" stroke-linejoin="round"/>
<ellipse cx="727.6" cy="1625.1" rx="17.4" ry="20.8" fill="#fff" stroke="#000" stroke-width="4.15" transform="rotate(20 727.6 1625.1)"/>
<ellipse cx="733.7" cy="1623" rx="12.2" ry="20" fill="#fff" stroke="#000" stroke-width="4.64" transform="rotate(20 733.7 1623)"/>
<ellipse cx="734.6" cy="1623.3" rx="7.3" ry="13.9" fill="none" stroke="#000" stroke-width="3.9" transform="rotate(20 734.6 1623.3)"/>
<path d="M 731.1 1623.3 L 739.8 1626.8 L 750.2 1632.9" fill="none" stroke="#000" stroke-width="3.9" stroke-linejoin="round"/>
<path d="M 729.4 1626.8 L 729.7 1630.3" fill="none" stroke="#000" stroke-width="4.88" stroke-linejoin="round"/>
<path d="M 551.3 1666 L 512.5 1678.3 Q 509.8 1681.4 514.3 1683.5 L 612.6 1742.1 L 639.6 1734.2" fill="none" stroke="#000" stroke-width="3.66" stroke-linejoin="round"/>
<path d="M 512.5 1678.3 L 609.3 1735.8 L 634.2 1729.5" fill="none" stroke="#000" stroke-width="3.17" stroke-linejoin="round"/>
<path d="M 609.3 1735.8 L 612.6 1742.1" fill="none" stroke="#000" stroke-width="3.17" stroke-linejoin="round"/>
<path d="M 551.3 1666 L 598.1 1652.5" fill="none" stroke="#000" stroke-width="3.42" stroke-dasharray="6 3 20 3 16 200" stroke-linejoin="round"/>
<path d="M 637.8 1728.2 L 672 1717.8 M 643.2 1732.4 L 679.3 1721" fill="none" stroke="#000" stroke-width="3.42" stroke-dasharray="22 4" stroke-linejoin="round"/>
<path d="M 681.1 1713.8 L 695.5 1709.3 M 687.4 1718.7 L 691.9 1717.2 M 697.3 1713.8 L 701.8 1712.4" fill="none" stroke="#000" stroke-width="3.42" stroke-linejoin="round"/>
</g>
<g id="s42_part6">
<g transform="translate(-55.2 486.2)">
<path d="M 574.5 943.2 L 577.4 930.7 L 587.1 921.6 L 601.6 921 L 609.4 930.7 L 610.7 945.2 L 604.5 960.7 L 590 964.5 L 577.4 955.8 Z" fill="#fff" stroke="#000" stroke-width="5.25" stroke-linejoin="round"/>
<path d="M 587.1 921.6 L 592.5 926.8 L 591 945.2 L 583.2 957.8 L 577.4 955.8 M 592.5 926.8 L 606.1 926.2 M 591 945.2 L 600.7 947.5 M 583.2 957.8 L 590 964.5" fill="none" stroke="#000" stroke-width="3.9" stroke-linejoin="round"/>
<path d="M 596.4 936.5 L 603.6 939 M 595.2 945.2 L 602.2 951.9 M 597.8 932 L 605.5 933.6 M 596.8 952.9 L 600.7 957.8" fill="none" stroke="#000" stroke-width="4.64" stroke-linejoin="round"/>
<g transform="translate(591.9 943.2) rotate(29.5)">
<ellipse cx="14" cy="0" rx="5" ry="9" fill="#000" stroke="#000" stroke-width="4.15"/>
<ellipse cx="20" cy="0" rx="4" ry="8.5" fill="#fff" stroke="#000" stroke-width="3.9"/>
<path d="M26 -11.5 L53 -11.5 L53 11.5 L26 11.5 Q21 0 26 -11.5 Z" fill="#fff" stroke="#000" stroke-width="4.03" stroke-linejoin="round"/>
<path d="M31 -11.5 Q27 0 31 11.5" fill="none" stroke="#000" stroke-width="3.42" stroke-linejoin="round"/>
<path d="M52 -14.5 L58 -14.5 L58 14.5 L52 14.5 Z" fill="#fff" stroke="#000" stroke-width="3.9" stroke-linejoin="round"/>
<path d="M58 -11 L77 -11 Q81 0 77 11 L58 11 Z" fill="#fff" stroke="#000" stroke-width="4.03" stroke-linejoin="round"/>
<path d="M55 -14 L55 14" fill="none" stroke="#000" stroke-width="3.66" stroke-linejoin="round"/>
<ellipse cx="79.5" cy="0" rx="2" ry="3.5" fill="#fff" stroke="#000" stroke-width="3.17"/>
</g>
</g>
<path d="M 375.2 1377.3 L 420.3 1406 Q 439.4 1419.9 460.3 1421.6 L 477.6 1416.4" fill="none" stroke="#000" stroke-width="4.39" stroke-dasharray="10 4" stroke-linejoin="round"/>
<path d="M 434.2 1360.8 L 434.2 1397.3 Q 436 1412.9 446.4 1420.2" fill="none" stroke="#000" stroke-width="3.66" stroke-dasharray="14 4" stroke-linejoin="round"/>
<path d="M 493.3 1353.9 L 493.3 1375.6" fill="none" stroke="#000" stroke-width="3.66" stroke-dasharray="30 4" stroke-linejoin="round"/>
<path d="M 444.7 1393.8 L 455.1 1374.7 L 469 1361.2 L 482.8 1360.8 L 491.5 1368.6 M 444.7 1393.8 L 446.4 1412.9 L 456.8 1417.3 L 460.3 1397.3 L 444.7 1393.8 M 460.3 1397.3 L 467.2 1379.9 L 460.3 1367.8 M 467.2 1379.9 L 481.1 1374.7" fill="none" stroke="#000" stroke-width="4.15" stroke-dasharray="14 3.5" stroke-linejoin="round"/>
<path d="M 468.1 1392.1 L 474.2 1379.9 L 488.1 1376.5 L 497.6 1383.4 L 498.5 1397.3 L 491.5 1412.9 L 477.6 1416.4 L 469 1409.4 Z" fill="#fff" stroke="#000" stroke-width="3.9" stroke-linejoin="round"/>
<path d="M 474.2 1379.9 L 481.1 1390.3 L 477.6 1416.4 M 481.1 1390.3 L 497.6 1383.4" fill="none" stroke="#000" stroke-width="3.42" stroke-linejoin="round"/>
<ellipse cx="485.5" cy="1400.8" rx="4.5" ry="12.5" fill="#fff" stroke="#000" stroke-width="3.9" transform="rotate(25 485.5 1400.8)"/>
<ellipse cx="490.3" cy="1402.8" rx="4.5" ry="12.5" fill="#fff" stroke="#000" stroke-width="3.9" transform="rotate(25 490.3 1402.8)"/>
<ellipse cx="495.2" cy="1404.9" rx="4.5" ry="12.5" fill="#fff" stroke="#000" stroke-width="3.9" transform="rotate(25 495.2 1404.9)"/>
<path d="M 497.6 1390.3 Q 510.6 1392.1 510.3 1404.2 Q 507.2 1418.1 495 1419" fill="none" stroke="#000" stroke-width="4.15" stroke-linejoin="round"/>
<ellipse cx="497.6" cy="1406.8" rx="3.1" ry="6.9" fill="#000" stroke="#000" stroke-width="3.66" transform="rotate(25 497.6 1406.8)"/>
</g>
<g id="s43_tank">
<path d="M 1499.5 705.3 L 1409.3 756.6 Q 1390.2 773 1390.2 803 L 1390.8 863.2" fill="none" stroke="#000" stroke-width="2.93" stroke-dasharray="24 3.5 7 3.5" stroke-linejoin="round"/>
<path d="M 1401.1 773 L 1484.5 820.8" fill="none" stroke="#000" stroke-width="2.93" stroke-dasharray="24 3.5 7 3.5" stroke-linejoin="round"/>
<path d="M 1418.9 837.2 Q 1423 823.5 1439.4 822.2 Q 1453 824.9 1459.9 834.5 L 1468.1 850.9 L 1470.8 861.8 L 1465.3 876.9 L 1453 885.1 L 1439.4 881" fill="none" stroke="#000" stroke-width="4.15" stroke-dasharray="22 3 6 3" stroke-linejoin="round"/>
<path d="M 1428.4 831.7 L 1446.2 834.5 L 1459.9 834.5 M 1446.2 834.5 L 1458.5 860.5 L 1468.1 850.9 M 1458.5 860.5 L 1453 885.1" fill="none" stroke="#000" stroke-width="3.66" stroke-dasharray="16 3" stroke-linejoin="round"/>
<path d="M 1412 850.9 L 1424.3 839.9 L 1436.6 842.7 L 1447.6 860.5 L 1444.8 871.4 L 1436.6 879.9 L 1428.4 876.9 L 1417.5 856.3 Z" fill="#fff" stroke="#000" stroke-width="4.15" stroke-linejoin="round"/>
<path d="M 1424.3 839.9 L 1434.6 857 L 1436.6 879.9 M 1434.6 857 L 1447.6 860.5 M 1417.5 848.1 L 1427.7 865.9 M 1420.9 844 L 1431.8 861.8" fill="none" stroke="#000" stroke-width="3.66" stroke-linejoin="round"/>
<path d="M 1394.3 867.3 L 1417.5 856.3 L 1431.2 876.9 L 1417.5 893.3 L 1412 904.2 L 1401.1 915.4 L 1384.7 911.3 L 1377.2 904.2 L 1384.7 885.1 Z" fill="#fff" stroke="#000" stroke-width="4.39" stroke-linejoin="round"/>
<path d="M 1398.4 869.3 L 1417.5 860.7 L 1424.3 871.7 L 1406.6 879.9 Z" fill="none" stroke="#000" stroke-width="3.66" stroke-linejoin="round"/>
<path d="M 1412 887.8 L 1406.6 904.2 L 1401.1 912.4 M 1417.5 882.3 L 1424.3 876.9" fill="none" stroke="#000" stroke-width="3.42" stroke-linejoin="round"/>
<path d="M 1395.6 885.1 L 1394.3 890.5 M 1392.2 895.3 L 1390.8 898.7" fill="none" stroke="#000" stroke-width="5.49" stroke-linejoin="round"/>
<path d="M 1377.2 904.2 L 1376.5 915.1 L 1381.9 926.1 L 1392.9 929.1 L 1401.1 924.7 L 1401.1 915.4" fill="#fff" stroke="#000" stroke-width="4.15" stroke-linejoin="round"/>
<path d="M 1377.2 908.3 Q 1387.4 917.9 1401.1 917.9 M 1377.2 912.4 Q 1387.4 922 1401.1 921.3 M 1379.2 919.2 Q 1387.4 925.4 1398.4 924.7" fill="none" stroke="#000" stroke-width="3.66" stroke-linejoin="round"/>
<path d="M 1477.6 871.4 Q 1481.7 857.7 1498.1 856.3 Q 1511.8 859.1 1518.7 868.7 L 1526.9 885.1 L 1529.6 896 L 1524.1 911 L 1511.8 919.2 L 1498.1 915.1" fill="none" stroke="#000" stroke-width="4.15" stroke-dasharray="22 3 6 3" stroke-linejoin="round"/>
<path d="M 1487.2 865.9 L 1505 868.7 L 1518.7 868.7 M 1505 868.7 L 1517.3 894.6 L 1526.9 885.1 M 1517.3 894.6 L 1511.8 919.2" fill="none" stroke="#000" stroke-width="3.66" stroke-dasharray="16 3" stroke-linejoin="round"/>
<path d="M 1470.8 885.1 L 1483.1 874.1 L 1495.4 876.9 L 1506.3 894.6 L 1503.6 905.6 L 1495.4 914 L 1487.2 911 L 1476.3 890.5 Z" fill="#fff" stroke="#000" stroke-width="4.15" stroke-linejoin="round"/>
<path d="M 1483.1 874.1 L 1493.4 891.2 L 1495.4 914 M 1493.4 891.2 L 1506.3 894.6 M 1476.3 882.3 L 1486.5 900.1 M 1479.7 878.2 L 1490.6 896" fill="none" stroke="#000" stroke-width="3.66" stroke-linejoin="round"/>
<path d="M 1453 901.5 L 1476.3 890.5 L 1489.9 911 L 1476.3 927.4 L 1470.8 938.4 L 1459.9 949.6 L 1443.5 945.5 L 1435.9 938.4 L 1443.5 919.2 Z" fill="#fff" stroke="#000" stroke-width="4.39" stroke-linejoin="round"/>
<path d="M 1457.1 903.5 L 1476.3 894.9 L 1483.1 905.8 L 1465.3 914 Z" fill="none" stroke="#000" stroke-width="3.66" stroke-linejoin="round"/>
<path d="M 1470.8 922 L 1465.3 938.4 L 1459.9 946.6 M 1476.3 916.5 L 1483.1 911" fill="none" stroke="#000" stroke-width="3.42" stroke-linejoin="round"/>
<path d="M 1454.4 919.2 L 1453 924.7 M 1451 929.5 L 1449.6 932.9" fill="none" stroke="#000" stroke-width="5.49" stroke-linejoin="round"/>
<path d="M 1435.9 938.4 L 1435.3 949.3 L 1440.7 960.2 L 1451.7 963.3 L 1459.9 958.9 L 1459.9 949.6" fill="#fff" stroke="#000" stroke-width="4.15" stroke-linejoin="round"/>
<path d="M 1435.9 942.5 Q 1446.2 952 1459.9 952 M 1435.9 946.6 Q 1446.2 956.1 1459.9 955.5 M 1438 953.4 Q 1446.2 959.6 1457.1 958.9" fill="none" stroke="#000" stroke-width="3.66" stroke-linejoin="round"/>
</g>
<g id="s44_p32">
<g transform="translate(1344.5 1006) rotate(116.6)">
<path d="M17 -8 L22 -11 L42 -11 L42 11 L22 11 L17 8 Z" fill="#fff" stroke="#000" stroke-width="4.39" stroke-linejoin="round"/>
<ellipse cx="30" cy="0" rx="5" ry="8" fill="none" stroke="#000" stroke-width="3.9"/>
<path d="M24 -10 L24 -4 M24 5 L24 10 M37 -10 Q33 0 37 10" fill="none" stroke="#000" stroke-width="3.42" stroke-linejoin="round"/>
<path d="M42 -13 L74 -13 L74 13 L42 13 Z" fill="#fff" stroke="#000" stroke-width="4.64" stroke-linejoin="round"/>
<path d="M70 -13 Q78 0 70 13" fill="none" stroke="#000" stroke-width="3.9" stroke-linejoin="round"/>
<path d="M74 -11.5 L98 -11.5 L102 -7 L96 -1 L100 6 L96 11.5 L74 11.5 Z" fill="#fff" stroke="#000" stroke-width="4.64" stroke-linejoin="round"/>
</g>
<g transform="translate(1344.5 1006)">
<path d="M-17 10 Q-10 21 0 22 Q11 21 17 12" fill="none" stroke="#000" stroke-width="3.9" stroke-linejoin="round"/>
<path d="M1.2 -16.8 Q-12 -20 -19 -8 Q-22 6 -8 16.5 Q6 20 17 6 Q20 -6 9.6 -10.8" fill="#fff" stroke="#000" stroke-width="5.37" stroke-linejoin="round"/>
<path d="M-2.4 -12 Q-12 -10 -12 0 Q-10 8 -2 8.5 Q8 8 12 -1" fill="none" stroke="#000" stroke-width="4.15" stroke-linejoin="round"/>
<path d="M-12 6 Q-4 14 6 13" fill="none" stroke="#000" stroke-width="3.42" stroke-linejoin="round"/>
</g>
<path d="M1348 999 L1352 991" fill="none" stroke="#000" stroke-width="2.93" stroke-linejoin="round"/>
<g transform="translate(1402.2 1044.5) rotate(116.6)">
<path d="M17 -8 L22 -11 L42 -11 L42 11 L22 11 L17 8 Z" fill="#fff" stroke="#000" stroke-width="4.39" stroke-linejoin="round"/>
<ellipse cx="30" cy="0" rx="5" ry="8" fill="none" stroke="#000" stroke-width="3.9"/>
<path d="M24 -10 L24 -4 M24 5 L24 10 M37 -10 Q33 0 37 10" fill="none" stroke="#000" stroke-width="3.42" stroke-linejoin="round"/>
<path d="M42 -13 L74 -13 L74 13 L42 13 Z" fill="#fff" stroke="#000" stroke-width="4.64" stroke-linejoin="round"/>
<path d="M70 -13 Q78 0 70 13" fill="none" stroke="#000" stroke-width="3.9" stroke-linejoin="round"/>
<path d="M74 -11.5 L98 -11.5 L102 -7 L96 -1 L100 6 L96 11.5 L74 11.5 Z" fill="#fff" stroke="#000" stroke-width="4.64" stroke-linejoin="round"/>
</g>
<g transform="translate(1402.2 1044.5)">
<path d="M-17 10 Q-10 21 0 22 Q11 21 17 12" fill="none" stroke="#000" stroke-width="3.9" stroke-linejoin="round"/>
<path d="M1.2 -16.8 Q-12 -20 -19 -8 Q-22 6 -8 16.5 Q6 20 17 6 Q20 -6 9.6 -10.8" fill="#fff" stroke="#000" stroke-width="5.37" stroke-linejoin="round"/>
<path d="M-2.4 -12 Q-12 -10 -12 0 Q-10 8 -2 8.5 Q8 8 12 -1" fill="none" stroke="#000" stroke-width="4.15" stroke-linejoin="round"/>
<path d="M-12 6 Q-4 14 6 13" fill="none" stroke="#000" stroke-width="3.42" stroke-linejoin="round"/>
</g>
<path d="M1405.7 1037.5 L1409.7 1029.5" fill="none" stroke="#000" stroke-width="2.93" stroke-linejoin="round"/>
</g>
<g id="s45_pump2">
<path d="M 1126.8 1602.1 L 1125.6 1623.7 L 1128 1638.1 L 1141.2 1649 L 1143.6 1655 L 1160.5 1664.6 L 1165.9 1667.2 L 1182.1 1660.4 L 1208.5 1645.4" fill="none" stroke="#000" stroke-width="4.39" stroke-dasharray="14 4" stroke-linejoin="round"/>
<path d="M 1140 1590.1 L 1166.5 1582.9 L 1191.7 1568.5 L 1196.5 1571.5 L 1206.1 1566 L 1225.4 1578.1 L 1238.6 1598.5 L 1237.4 1609.3" fill="none" stroke="#000" stroke-width="4.15" stroke-dasharray="16 3.5" stroke-linejoin="round"/>
<path d="M 1164.1 1614.1 L 1224.2 1581.7 M 1179.7 1633.3 L 1237.4 1602.1" fill="none" stroke="#000" stroke-width="4.64" stroke-dasharray="14 4" stroke-linejoin="round"/>
<path d="M 1170.1 1618.9 L 1223 1590.7 M 1183.3 1638.1 L 1237.4 1609.3" fill="none" stroke="#000" stroke-width="3.66" stroke-dasharray="30 3" stroke-linejoin="round"/>
<path d="M 1164.1 1614.1 Q 1172.5 1621.3 1179.7 1633.3 L 1183.3 1638.1 L 1182.1 1660.4" fill="none" stroke="#000" stroke-width="4.39" stroke-linejoin="round"/>
<path d="M 1166.5 1582.9 L 1165.3 1592.5 M 1170.1 1586.5 L 1184.5 1579.3 M 1140 1590.1 L 1146 1604.5 M 1126.8 1602.1 L 1140 1600.9 L 1146 1604.5 L 1148.5 1598.5" fill="none" stroke="#000" stroke-width="3.66" stroke-dasharray="10 3" stroke-linejoin="round"/>
<ellipse cx="1164.7" cy="1600.9" rx="12" ry="8.4" fill="#000" stroke="#000" stroke-width="3.66"/>
<path d="M 1164.1 1530 L 1164.1 1606.9" fill="none" stroke="#000" stroke-width="4.88" stroke-linejoin="round"/>
<path d="M 1128 1557.6 L 1128 1597.3 M 1137.6 1564.8 L 1137.6 1592.5 M 1152.1 1564.8 L 1152.1 1581.7 M 1158.1 1557.6 L 1158.1 1581.7 M 1128 1557.6 L 1137.6 1564.8 L 1152.1 1564.8 L 1158.1 1557.6 M 1138.8 1586.5 L 1149.7 1582.9 M 1140 1590.1 L 1158.1 1582.9" fill="none" stroke="#000" stroke-width="4.15" stroke-dasharray="16 3" stroke-linejoin="round"/>
<ellipse cx="1144.2" cy="1546.8" rx="12" ry="6.6" fill="none" stroke="#000" stroke-width="4.15"/>
<ellipse cx="1144.2" cy="1548" rx="6.6" ry="3.6" fill="none" stroke="#000" stroke-width="3.66"/>
<path d="M 1132.2 1548 L 1132.2 1560 M 1156.3 1548 L 1156.3 1560 M 1132.8 1552.8 Q 1144.2 1560 1155.7 1552.8 M 1132.8 1557 Q 1144.2 1564.2 1155.7 1557" fill="none" stroke="#000" stroke-width="3.9" stroke-linejoin="round"/>
<path d="M 1237.4 1621.3 L 1237.4 1647.8 M 1245.8 1626.1 L 1245.8 1655 M 1260.2 1626.1 L 1260.2 1662.2 M 1268.6 1618.9 L 1269.8 1650.2 Q 1266.2 1668.2 1251.8 1670.8 Q 1236.2 1665.8 1218.1 1650.2 L 1209.7 1645.4 L 1209.7 1638.1 L 1218.1 1623.7" fill="none" stroke="#000" stroke-width="4.39" stroke-dasharray="18 3" stroke-linejoin="round"/>
<path d="M 1220.6 1626.1 L 1236.2 1633.3 M 1218.1 1643 L 1244.6 1656.2 L 1245.8 1655 M 1215.7 1629.7 L 1213.3 1638.1" fill="none" stroke="#000" stroke-width="3.9" stroke-dasharray="10 3" stroke-linejoin="round"/>
<ellipse cx="1254.2" cy="1609.3" rx="12" ry="7.2" fill="none" stroke="#000" stroke-width="4.39"/>
<ellipse cx="1254.2" cy="1614.1" rx="5.4" ry="3.4" fill="none" stroke="#000" stroke-width="3.66"/>
<path d="M 1242.2 1610.5 L 1242.2 1621.3 L 1245.8 1626.1 L 1260.2 1626.1 L 1266.2 1621.3 L 1266.2 1610.5" fill="none" stroke="#000" stroke-width="4.15" stroke-linejoin="round"/>
</g>
<g id="s46_plugs2">
<path d="M1092.5 1506 L1092.5 1551" fill="none" stroke="#000" stroke-width="2.93" stroke-linejoin="round"/>
<path d="M1092.5 1551 L1146.3 1519.4" fill="none" stroke="#000" stroke-width="2.93" stroke-dasharray="24 4 8 4" stroke-linejoin="round"/>
<path d="M1146.3 1519.4 L1146.3 1548" fill="none" stroke="#000" stroke-width="2.93" stroke-linejoin="round"/>
<path d="M1304.2 1496 L1304.2 1536" fill="none" stroke="#000" stroke-width="2.93" stroke-linejoin="round"/>
<path d="M1304.2 1536 L1253.3 1564.3" fill="none" stroke="#000" stroke-width="2.93" stroke-dasharray="10 4 8 4 24 4" stroke-linejoin="round"/>
<path d="M1253.3 1564.3 L1253.3 1606" fill="none" stroke="#000" stroke-width="2.93" stroke-linejoin="round"/>
<path d="M 1186.7 1454 L 1172.8 1474.3" fill="none" stroke="#000" stroke-width="2.93" stroke-linejoin="round"/>
<g transform="translate(1093 1410)">
<path d="M-12 3 Q-12 0 -9 0 L9 0 Q12 0 12 3 L12 18 L-12 18 Z" fill="#fff" stroke="#000" stroke-width="4.64" stroke-linejoin="round"/>
<path d="M-7 15 Q0 19 7 15" fill="none" stroke="#000" stroke-width="3.17" stroke-linejoin="round"/>
<path d="M-16 15 L-13 12 L13 12 L16 15 L16 19 L13 22 L-13 22 L-16 19 Z" fill="#000" stroke="#000" stroke-width="2.93" stroke-linejoin="round"/>
<path d="M-13.5 22 L13.5 22 L13.5 46 Q13 53 0 54 Q-13 53 -13.5 46 Z" fill="#fff" stroke="#000" stroke-width="4.64" stroke-linejoin="round"/>
<path d="M-8 42 Q0 49 8 42" fill="none" stroke="#000" stroke-width="4.15" stroke-linejoin="round"/>
<ellipse cx="0" cy="63" rx="12.5" ry="8" fill="#fff" stroke="#000" stroke-width="4.39"/>
<path d="M0 55 L0 66" fill="none" stroke="#000" stroke-width="4.15" stroke-linejoin="round"/>
<path d="M-21.5 78 L-12 68 L12 68 L21.5 78 L21.5 87 L13 96 L-13 96 L-21.5 87 Z" fill="#fff" stroke="#000" stroke-width="4.88" stroke-linejoin="round"/>
<ellipse cx="0" cy="70" rx="9" ry="4.5" fill="none" stroke="#000" stroke-width="3.17"/>
<path d="M-16 78 L-8 86 L8 86 L16 78 M-8 86 L-8 95 M8 86 L8 95" fill="none" stroke="#000" stroke-width="3.42" stroke-linejoin="round"/>
<path d="M-9 76 L-4 80 M9 76 L4 80" fill="none" stroke="#000" stroke-width="3.66" stroke-linejoin="round"/>
</g>
<g transform="translate(1224.1 1386.7) rotate(118)">
<path d="M0 -10 L22 -10 L22 10 L0 10 Z" fill="#fff" stroke="#000" stroke-width="4.15" stroke-linejoin="round"/>
<path d="M22 -8 L40 -8 L40 8 L22 8 Z" fill="#fff" stroke="#000" stroke-width="3.9" stroke-linejoin="round"/>
<path d="M27 -4 L35 -4 L35 4 L27 4 Z" fill="none" stroke="#000" stroke-width="2.93" stroke-linejoin="round"/>
<path d="M40 -4 L52 -4 L52 4 L40 4 Z" fill="#fff" stroke="#000" stroke-width="3.66" stroke-linejoin="round"/>
</g>
<path d="M 1170.7 1442.2 L 1188.9 1424.1 L 1212.4 1445.5 L 1204.9 1463 L 1170.7 1442.2 Z" fill="#fff" stroke="#000" stroke-width="4.15" stroke-linejoin="round"/>
<path d="M 1176 1442.2 L 1186.7 1431.6 L 1197.4 1440.1 L 1188.9 1450.8 Z M 1188.9 1450.8 L 1202.7 1459.3 L 1208.1 1447.6 L 1197.4 1440.1" fill="none" stroke="#000" stroke-width="3.42" stroke-linejoin="round"/>
<path d="M 1154.7 1482.8 L 1165.4 1469.4 L 1180.3 1477.1 L 1175 1490.7 Z" fill="#fff" stroke="#000" stroke-width="3.9" stroke-linejoin="round"/>
<path d="M 1157.9 1479.6 L 1177.1 1488.2 M 1160 1476.4 L 1178.6 1483.9 M 1162.2 1473.2 L 1179.9 1480.1" fill="none" stroke="#000" stroke-width="3.17" stroke-linejoin="round"/>
<path d="M 1144 1474.3 L 1138.7 1483.9 L 1137.6 1503.1 L 1161.1 1514.2 L 1186.7 1503.1 L 1185.7 1496.7 L 1173.9 1491.4 M 1144 1474.3 L 1150.4 1477.1 L 1152.5 1483.9 L 1146.1 1482.8 Z" fill="none" stroke="#000" stroke-width="3.66" stroke-dasharray="20 3" stroke-linejoin="round"/>
<path d="M 1162.2 1490.3 L 1162.2 1513.8" fill="none" stroke="#000" stroke-width="4.15" stroke-dasharray="10 3" stroke-linejoin="round"/>
<path d="M 1152.5 1514.9 L 1152.5 1524.5 L 1163.2 1530.9 L 1176 1524.5 L 1175.6 1514.9 M 1152.5 1519.2 L 1163.2 1525.6 L 1176 1519.2" fill="none" stroke="#000" stroke-width="3.9" stroke-linejoin="round"/>
<path d="M 1163.2 1530.9 L 1163.2 1560" fill="none" stroke="#000" stroke-width="3.66" stroke-linejoin="round"/>
<g transform="translate(1338.8 1383.9) rotate(118)">
<ellipse cx="2" cy="0" rx="5" ry="9" fill="#fff" stroke="#000" stroke-width="3.66"/>
<path d="M2 -10 L18 -10 L18 10 L2 10" fill="#fff" stroke="#000" stroke-width="4.15" stroke-linejoin="round"/>
<path d="M18 -14 L23 -14 L23 14 L18 14 Z" fill="#000" stroke="#000" stroke-width="3.17" stroke-linejoin="round"/>
<path d="M23 -12 L50 -12 L50 12 L23 12 Z" fill="#fff" stroke="#000" stroke-width="4.15" stroke-linejoin="round"/>
<path d="M50 -9 L62 -9 L62 9 L50 9 Z" fill="#fff" stroke="#000" stroke-width="3.9" stroke-linejoin="round"/>
<path d="M53 -3 L59 -3 L59 3 L53 3 Z" fill="none" stroke="#000" stroke-width="2.68" stroke-linejoin="round"/>
</g>
<path d="M 1305.3 1424.1 Q 1298.9 1445.5 1297.8 1466.8 L 1309.6 1467.9 Q 1309.6 1449.7 1316 1430.5 Z" fill="#fff" stroke="#000" stroke-width="4.15" stroke-linejoin="round"/>
<path d="M 1310.6 1427.3 Q 1304.2 1447.6 1303.8 1466.8" fill="none" stroke="#000" stroke-width="3.17" stroke-linejoin="round"/>
<g transform="translate(1304.5 1475)">
<ellipse cx="0" cy="-10" rx="12.5" ry="8" fill="#fff" stroke="#000" stroke-width="4.39"/>
<path d="M-22 5 L-12 -6 L12 -6 L22 5 L22 13 L13 22 L-13 22 L-22 13 Z" fill="#fff" stroke="#000" stroke-width="4.88" stroke-linejoin="round"/>
<path d="M-16 5 L-8 12 L8 12 L16 5 M-8 12 L-8 21 M8 12 L8 21" fill="none" stroke="#000" stroke-width="3.42" stroke-linejoin="round"/>
<path d="M-9 2 L-4 6 M9 2 L4 6 M0 -4 L0 3" fill="none" stroke="#000" stroke-width="3.66" stroke-linejoin="round"/>
</g>
</g>
<g id="s70_overlay">
<path d="M197 1839.5 L222 1825" fill="none" stroke="#000" stroke-width="2.87" stroke-dasharray="10 3" stroke-linejoin="round"/>
<path d="M263 1801.5 L335 1760.5" fill="none" stroke="#000" stroke-width="2.87" stroke-dasharray="52 4 40" stroke-linejoin="round"/>
<path d="M258.7 1766.8 L258.7 1826" fill="none" stroke="#000" stroke-width="2.87" stroke-linejoin="round"/>
<path d="M211 1638 L243.7 1683.8" fill="none" stroke="#000" stroke-width="2.87" stroke-linejoin="round"/>
<path d="M80 1727 L110.1 1760" fill="none" stroke="#000" stroke-width="2.87" stroke-linejoin="round"/>
<path d="M160.2 1438.3 Q185 1455 200 1473" fill="none" stroke="#000" stroke-width="2.87" stroke-linejoin="round"/>
</g>
<g id="s80_ports">
<text x="532.8" y="706.4" font-size="25.5" font-weight="normal" text-anchor="middle" textLength="26.6" lengthAdjust="spacingAndGlyphs" stroke="#000" stroke-width="1.6">B1</text>
<text x="454.3" y="753.2" font-size="25.5" font-weight="normal" text-anchor="middle" textLength="29.9" lengthAdjust="spacingAndGlyphs" stroke="#000" stroke-width="1.6">B2</text>
<text x="533.2" y="787" font-size="25.5" font-weight="normal" text-anchor="middle" textLength="25.6" lengthAdjust="spacingAndGlyphs" stroke="#000" stroke-width="1.6">P1</text>
<text x="449.5" y="842.2" font-size="25.5" font-weight="normal" text-anchor="middle" textLength="28.3" lengthAdjust="spacingAndGlyphs" stroke="#000" stroke-width="1.6">P2</text>
<text x="376.9" y="875.6" font-size="25.5" font-weight="normal" text-anchor="middle" textLength="30" lengthAdjust="spacingAndGlyphs" stroke="#000" stroke-width="1.6">P3</text>
<text x="490.2" y="869" font-size="25.5" font-weight="normal" text-anchor="middle" textLength="28.3" lengthAdjust="spacingAndGlyphs" stroke="#000" stroke-width="1.6">A1</text>
<text x="404.2" y="916.5" font-size="25.5" font-weight="normal" text-anchor="middle" textLength="30" lengthAdjust="spacingAndGlyphs" stroke="#000" stroke-width="1.6">A2</text>
<text x="278.2" y="948.2" font-size="25.5" font-weight="normal" text-anchor="middle" textLength="28.2" lengthAdjust="spacingAndGlyphs" stroke="#000" stroke-width="1.6">A3</text>
<text x="281.1" y="864.8" font-size="25.5" font-weight="normal" text-anchor="middle" textLength="29.3" lengthAdjust="spacingAndGlyphs" stroke="#000" stroke-width="1.6">B3</text>
</g>
<g id="s90_callouts">
<path d="M520.8 236.8 L500.8 296.9" fill="none" stroke="#000" stroke-width="2.68" stroke-linejoin="round"/>
<path d="M792.2 357 L765.5 448.8" fill="none" stroke="#000" stroke-width="2.68" stroke-linejoin="round"/>
<path d="M682.8 722.8 L561.7 744.2" fill="none" stroke="#000" stroke-width="2.68" stroke-linejoin="round"/>
<path d="M1048.2 799.5 L1101.4 886" fill="none" stroke="#000" stroke-width="2.68" stroke-linejoin="round"/>
<path d="M1259.1 965.4 L1308 1043.7" fill="none" stroke="#000" stroke-width="2.68" stroke-linejoin="round"/>
<path d="M1384.3 1112.5 L1440 1201.5" fill="none" stroke="#000" stroke-width="2.68" stroke-linejoin="round"/>
<path d="M1374 721.4 L1409.6 756.3" fill="none" stroke="#000" stroke-width="2.68" stroke-linejoin="round"/>
<path d="M1001 1076.8 L928.5 1101.9" fill="none" stroke="#000" stroke-width="2.68" stroke-linejoin="round"/>
<path d="M450.6 1092.5 L374.5 1116.9" fill="none" stroke="#000" stroke-width="2.68" stroke-linejoin="round"/>
<path d="M535.2 1135.2 L578.6 1065.1" fill="none" stroke="#000" stroke-width="2.68" stroke-linejoin="round"/>
<path d="M632.6 1118.5 L627.4 978.8" fill="none" stroke="#000" stroke-width="2.68" stroke-linejoin="round"/>
<path d="M705.4 1227 L763.8 1217.6" fill="none" stroke="#000" stroke-width="2.68" stroke-linejoin="round"/>
<path d="M722.1 1334.8 L823.9 1319.8" fill="none" stroke="#000" stroke-width="2.68" stroke-linejoin="round"/>
<path d="M526.2 1321.1 L546.9 1407.9" fill="none" stroke="#000" stroke-width="2.68" stroke-linejoin="round"/>
<path d="M175.9 1105.2 L220.3 1036.8" fill="none" stroke="#000" stroke-width="2.68" stroke-linejoin="round"/>
<path d="M261 1219.7 L227 1297.1" fill="none" stroke="#000" stroke-width="2.68" stroke-linejoin="round"/>
<path d="M312.1 1393.5 L298.7 1428.5" fill="none" stroke="#000" stroke-width="2.68" stroke-linejoin="round"/>
<path d="M238.7 1544.3 L203.6 1577" fill="none" stroke="#000" stroke-width="2.68" stroke-linejoin="round"/>
<path d="M86.1 1596.4 L61.1 1648.8" fill="none" stroke="#000" stroke-width="2.68" stroke-linejoin="round"/>
<path d="M175.9 1687.2 L230.3 1713.2" fill="none" stroke="#000" stroke-width="2.68" stroke-linejoin="round"/>
<path d="M145.9 1704.5 L142.9 1763.4" fill="none" stroke="#000" stroke-width="2.68" stroke-linejoin="round"/>
<path d="M308.7 1658.8 L391.2 1721.2" fill="none" stroke="#000" stroke-width="2.68" stroke-linejoin="round"/>
<path d="M388.9 1650.5 L445.6 1687.2" fill="none" stroke="#000" stroke-width="2.68" stroke-linejoin="round"/>
<path d="M448.9 1420.2 L467.3 1488.6" fill="none" stroke="#000" stroke-width="2.68" stroke-linejoin="round"/>
<path d="M425.6 1768.4 L353.8 1791.8" fill="none" stroke="#000" stroke-width="2.68" stroke-linejoin="round"/>
<path d="M150.9 1962 L118.5 1893.6" fill="none" stroke="#000" stroke-width="2.68" stroke-linejoin="round"/>
<path d="M293.7 1985.4 L323.8 1938.7" fill="none" stroke="#000" stroke-width="2.68" stroke-linejoin="round"/>
<path d="M541.9 1609.4 L592 1651.8" fill="none" stroke="#000" stroke-width="2.68" stroke-linejoin="round"/>
<path d="M671.1 1790.3 L723.2 1641.8" fill="none" stroke="#000" stroke-width="2.68" stroke-linejoin="round"/>
<path d="M560.9 1832 L525.2 1787" fill="none" stroke="#000" stroke-width="2.68" stroke-linejoin="round"/>
<circle cx="531" cy="206.3" r="30.1" fill="#fff" stroke="#000" stroke-width="3"/><text x="531" y="218.6" font-size="37.7" font-weight="normal" text-anchor="middle" stroke="#000" stroke-width="1.6">5</text>
<circle cx="1032.1" cy="771.8" r="30.1" fill="#fff" stroke="#000" stroke-width="3"/><text x="1032.1" y="784.1" font-size="37.7" font-weight="normal" text-anchor="middle" textLength="40.2" lengthAdjust="spacingAndGlyphs" stroke="#000" stroke-width="1.6">35</text>
<circle cx="1031.2" cy="1066.8" r="30.1" fill="#fff" stroke="#000" stroke-width="3"/><text x="1031.2" y="1079.1" font-size="37.7" font-weight="normal" text-anchor="middle" textLength="40.2" lengthAdjust="spacingAndGlyphs" stroke="#000" stroke-width="1.6">34</text>
<circle cx="1242.9" cy="937.2" r="30.1" fill="#fff" stroke="#000" stroke-width="3"/><text x="1242.9" y="949.5" font-size="37.7" font-weight="normal" text-anchor="middle" textLength="40.2" lengthAdjust="spacingAndGlyphs" stroke="#000" stroke-width="1.6">32</text>
<circle cx="1457.3" cy="1229" r="30.1" fill="#fff" stroke="#000" stroke-width="3"/><text x="1457.3" y="1241.3" font-size="37.7" font-weight="normal" text-anchor="middle" textLength="40.2" lengthAdjust="spacingAndGlyphs" stroke="#000" stroke-width="1.6">22</text>
<circle cx="480.6" cy="1082.3" r="30.1" fill="#fff" stroke="#000" stroke-width="3"/><text x="480.6" y="1094.6" font-size="37.7" font-weight="normal" text-anchor="middle" stroke="#000" stroke-width="1.6">2</text>
<circle cx="517.7" cy="1162.7" r="30.1" fill="#fff" stroke="#000" stroke-width="3"/><text x="517.7" y="1175" font-size="37.7" font-weight="normal" text-anchor="middle" textLength="40.2" lengthAdjust="spacingAndGlyphs" stroke="#000" stroke-width="1.6">27</text>
<circle cx="633.8" cy="1149.7" r="30.1" fill="#fff" stroke="#000" stroke-width="3"/><text x="633.8" y="1162" font-size="37.7" font-weight="normal" text-anchor="middle" textLength="40.2" lengthAdjust="spacingAndGlyphs" stroke="#000" stroke-width="1.6">14</text>
<circle cx="675.2" cy="1230.1" r="30.1" fill="#fff" stroke="#000" stroke-width="3"/><text x="675.2" y="1242.4" font-size="37.7" font-weight="normal" text-anchor="middle" stroke="#000" stroke-width="1.6">1</text>
<circle cx="691.9" cy="1340" r="30.1" fill="#fff" stroke="#000" stroke-width="3"/><text x="691.9" y="1352.3" font-size="37.7" font-weight="normal" text-anchor="middle" textLength="40.2" lengthAdjust="spacingAndGlyphs" stroke="#000" stroke-width="1.6">14</text>
<circle cx="519.7" cy="1290.9" r="30.1" fill="#fff" stroke="#000" stroke-width="3"/><text x="519.7" y="1303.2" font-size="37.7" font-weight="normal" text-anchor="middle" stroke="#000" stroke-width="1.6">6</text>
<circle cx="159.4" cy="1132.8" r="30.1" fill="#fff" stroke="#000" stroke-width="3"/><text x="159.4" y="1145.1" font-size="37.7" font-weight="normal" text-anchor="middle" textLength="40.2" lengthAdjust="spacingAndGlyphs" stroke="#000" stroke-width="1.6">44</text>
<circle cx="272.5" cy="1189.5" r="30.1" fill="#fff" stroke="#000" stroke-width="3"/><text x="272.5" y="1201.8" font-size="37.7" font-weight="normal" text-anchor="middle" textLength="40.2" lengthAdjust="spacingAndGlyphs" stroke="#000" stroke-width="1.6">44</text>
<circle cx="320.9" cy="1363.2" r="30.1" fill="#fff" stroke="#000" stroke-width="3"/><text x="320.9" y="1375.5" font-size="37.7" font-weight="normal" text-anchor="middle" stroke="#000" stroke-width="1.6">3</text>
<circle cx="259.2" cy="1521.1" r="30.1" fill="#fff" stroke="#000" stroke-width="3"/><text x="259.2" y="1533.4" font-size="37.7" font-weight="normal" text-anchor="middle" textLength="40.2" lengthAdjust="spacingAndGlyphs" stroke="#000" stroke-width="1.6">46</text>
<circle cx="98.5" cy="1567.2" r="30.1" fill="#fff" stroke="#000" stroke-width="3"/><text x="98.5" y="1579.5" font-size="37.7" font-weight="normal" text-anchor="middle" textLength="40.2" lengthAdjust="spacingAndGlyphs" stroke="#000" stroke-width="1.6">45</text>
<circle cx="148.5" cy="1673.8" r="30.1" fill="#fff" stroke="#000" stroke-width="3"/><text x="148.5" y="1686.1" font-size="37.7" font-weight="normal" text-anchor="middle" textLength="40.2" lengthAdjust="spacingAndGlyphs" stroke="#000" stroke-width="1.6">43</text>
<circle cx="285.9" cy="1642" r="30.1" fill="#fff" stroke="#000" stroke-width="3"/><text x="285.9" y="1654.3" font-size="37.7" font-weight="normal" text-anchor="middle" textLength="40.2" lengthAdjust="spacingAndGlyphs" stroke="#000" stroke-width="1.6">40</text>
<circle cx="366.3" cy="1632.1" r="30.1" fill="#fff" stroke="#000" stroke-width="3"/><text x="366.3" y="1644.4" font-size="37.7" font-weight="normal" text-anchor="middle" textLength="40.2" lengthAdjust="spacingAndGlyphs" stroke="#000" stroke-width="1.6">39</text>
<circle cx="454.3" cy="1759.1" r="30.1" fill="#fff" stroke="#000" stroke-width="3"/><text x="454.3" y="1771.4" font-size="37.7" font-weight="normal" text-anchor="middle" textLength="40.2" lengthAdjust="spacingAndGlyphs" stroke="#000" stroke-width="1.6">41</text>
<circle cx="163.6" cy="1991.2" r="30.1" fill="#fff" stroke="#000" stroke-width="3"/><text x="163.6" y="2003.5" font-size="37.7" font-weight="normal" text-anchor="middle" textLength="40.2" lengthAdjust="spacingAndGlyphs" stroke="#000" stroke-width="1.6">38</text>
<circle cx="279.2" cy="2012.6" r="30.1" fill="#fff" stroke="#000" stroke-width="3"/><text x="279.2" y="2024.9" font-size="37.7" font-weight="normal" text-anchor="middle" textLength="40.2" lengthAdjust="spacingAndGlyphs" stroke="#000" stroke-width="1.6">42</text>
<circle cx="518.2" cy="1589.6" r="30.1" fill="#fff" stroke="#000" stroke-width="3"/><text x="518.2" y="1601.9" font-size="37.7" font-weight="normal" text-anchor="middle" textLength="40.2" lengthAdjust="spacingAndGlyphs" stroke="#000" stroke-width="1.6">36</text>
<circle cx="659.9" cy="1819.8" r="30.1" fill="#fff" stroke="#000" stroke-width="3"/><text x="659.9" y="1832.1" font-size="37.7" font-weight="normal" text-anchor="middle" textLength="40.2" lengthAdjust="spacingAndGlyphs" stroke="#000" stroke-width="1.6">15</text>
<circle cx="579.5" cy="1857.9" r="30.1" fill="#fff" stroke="#000" stroke-width="3"/><text x="579.5" y="1870.2" font-size="37.7" font-weight="normal" text-anchor="middle" textLength="40.2" lengthAdjust="spacingAndGlyphs" stroke="#000" stroke-width="1.6">12</text>
</g>
</svg>
</body></html>
